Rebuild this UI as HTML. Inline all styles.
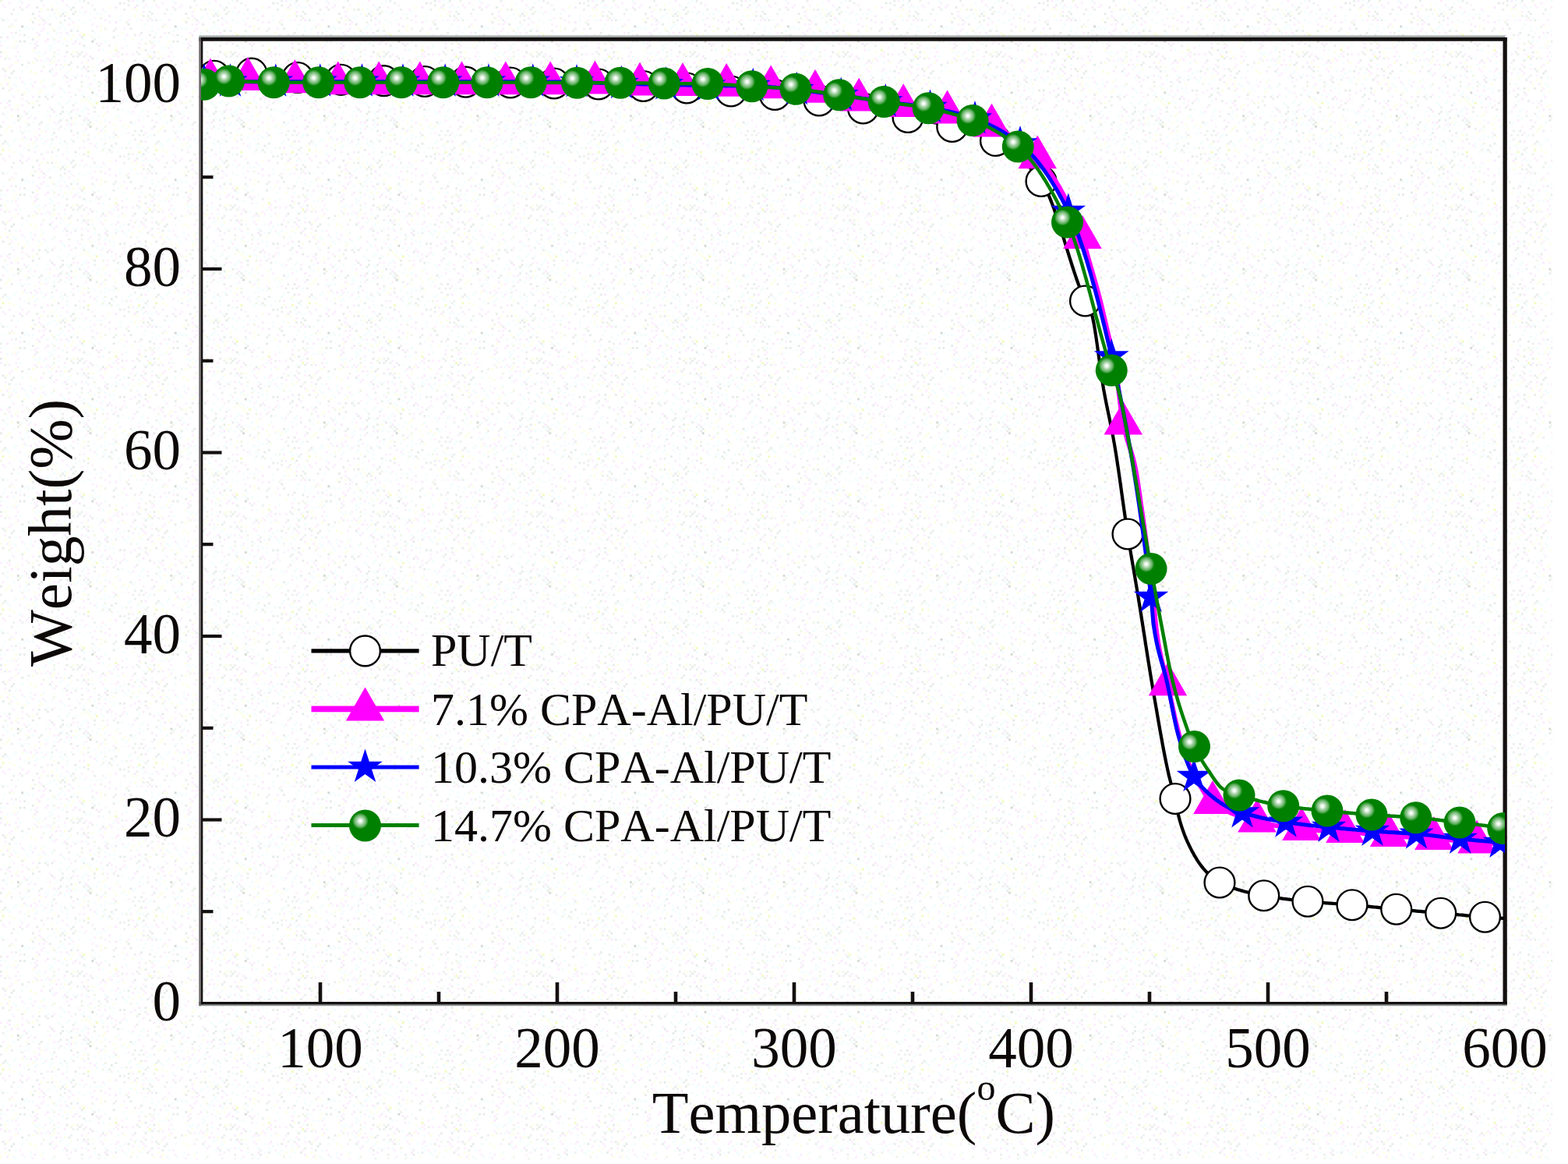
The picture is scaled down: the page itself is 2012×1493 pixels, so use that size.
<!DOCTYPE html>
<html lang="en"><head><meta charset="utf-8"><title>TGA curves</title>
<style>html,body{margin:0;padding:0;background:#fff;}body{width:2012px;height:1493px;overflow:hidden;}svg{display:block;}text{font-family:"Liberation Serif","Times New Roman",serif;fill:#0c0808;font-kerning:none;}</style>
</head><body>
<svg width="2012" height="1493" viewBox="0 0 2012 1493">
<defs>
<radialGradient id="sph" cx="0.35" cy="0.355" r="0.255" fx="0.35" fy="0.355"><stop offset="0" stop-color="#ffffff"/><stop offset="0.16" stop-color="#f2f9f2"/><stop offset="0.42" stop-color="#acd6ac"/><stop offset="0.72" stop-color="#66b266"/><stop offset="1" stop-color="#008000"/></radialGradient>
<clipPath id="plot"><rect x="258.0" y="50.5" width="1673.0" height="1236.5"/></clipPath>
<pattern id="noise" width="196.56" height="196.56" patternUnits="userSpaceOnUse"><path fill="#effcfc" d="M150.15,147.42h2.73v2.73h-2.73zM155.61,188.37h2.73v2.73h-2.73zM114.66,125.58h2.73v2.73h-2.73zM133.77,109.20h2.73v2.73h-2.73zM139.23,174.72h2.73v2.73h-2.73zM35.49,166.53h2.73v2.73h-2.73zM30.03,106.47h2.73v2.73h-2.73zM133.77,152.88h2.73v2.73h-2.73zM68.25,16.38h2.73v2.73h-2.73zM185.64,30.03h2.73v2.73h-2.73zM8.19,182.91h2.73v2.73h-2.73zM122.85,188.37h2.73v2.73h-2.73zM117.39,46.41h2.73v2.73h-2.73zM191.10,171.99h2.73v2.73h-2.73zM43.68,180.18h2.73v2.73h-2.73zM70.98,40.95h2.73v2.73h-2.73zM182.91,8.19h2.73v2.73h-2.73zM87.36,144.69h2.73v2.73h-2.73zM32.76,161.07h2.73v2.73h-2.73zM114.66,60.06h2.73v2.73h-2.73zM150.15,193.83h2.73v2.73h-2.73zM35.49,35.49h2.73v2.73h-2.73zM54.60,68.25h2.73v2.73h-2.73zM65.52,60.06h2.73v2.73h-2.73zM76.44,182.91h2.73v2.73h-2.73zM193.83,38.22h2.73v2.73h-2.73zM174.72,24.57h2.73v2.73h-2.73zM27.30,90.09h2.73v2.73h-2.73zM133.77,51.87h2.73v2.73h-2.73zM103.74,141.96h2.73v2.73h-2.73zM65.52,171.99h2.73v2.73h-2.73zM21.84,57.33h2.73v2.73h-2.73zM155.61,161.07h2.73v2.73h-2.73zM133.77,95.55h2.73v2.73h-2.73zM111.93,109.20h2.73v2.73h-2.73zM109.20,136.50h2.73v2.73h-2.73zM65.52,182.91h2.73v2.73h-2.73zM144.69,70.98h2.73v2.73h-2.73zM169.26,158.34h2.73v2.73h-2.73zM122.85,120.12h2.73v2.73h-2.73zM90.09,24.57h2.73v2.73h-2.73zM24.57,70.98h2.73v2.73h-2.73zM152.88,92.82h2.73v2.73h-2.73zM84.63,182.91h2.73v2.73h-2.73zM106.47,16.38h2.73v2.73h-2.73zM51.87,177.45h2.73v2.73h-2.73zM60.06,40.95h2.73v2.73h-2.73zM180.18,2.73h2.73v2.73h-2.73zM131.04,62.79h2.73v2.73h-2.73zM174.72,185.64h2.73v2.73h-2.73zM19.11,109.20h2.73v2.73h-2.73zM43.68,188.37h2.73v2.73h-2.73zM90.09,177.45h2.73v2.73h-2.73zM19.11,177.45h2.73v2.73h-2.73zM95.55,2.73h2.73v2.73h-2.73zM24.57,0.00h2.73v2.73h-2.73zM62.79,62.79h2.73v2.73h-2.73zM125.58,147.42h2.73v2.73h-2.73zM180.18,49.14h2.73v2.73h-2.73zM16.38,106.47h2.73v2.73h-2.73zM144.69,174.72h2.73v2.73h-2.73zM182.91,139.23h2.73v2.73h-2.73zM101.01,0.00h2.73v2.73h-2.73zM177.45,147.42h2.73v2.73h-2.73zM54.60,182.91h2.73v2.73h-2.73zM161.07,57.33h2.73v2.73h-2.73zM155.61,139.23h2.73v2.73h-2.73zM163.80,98.28h2.73v2.73h-2.73zM117.39,90.09h2.73v2.73h-2.73zM57.33,76.44h2.73v2.73h-2.73zM62.79,57.33h2.73v2.73h-2.73zM87.36,128.31h2.73v2.73h-2.73zM87.36,155.61h2.73v2.73h-2.73zM32.76,177.45h2.73v2.73h-2.73zM158.34,90.09h2.73v2.73h-2.73zM106.47,147.42h2.73v2.73h-2.73zM76.44,122.85h2.73v2.73h-2.73zM101.01,24.57h2.73v2.73h-2.73zM163.80,182.91h2.73v2.73h-2.73zM109.20,95.55h2.73v2.73h-2.73zM10.92,185.64h2.73v2.73h-2.73zM57.33,111.93h2.73v2.73h-2.73zM84.63,131.04h2.73v2.73h-2.73zM95.55,131.04h2.73v2.73h-2.73zM180.18,141.96h2.73v2.73h-2.73zM106.47,49.14h2.73v2.73h-2.73zM125.58,46.41h2.73v2.73h-2.73zM114.66,24.57h2.73v2.73h-2.73zM95.55,158.34h2.73v2.73h-2.73zM24.57,38.22h2.73v2.73h-2.73zM128.31,106.47h2.73v2.73h-2.73zM81.90,13.65h2.73v2.73h-2.73zM73.71,35.49h2.73v2.73h-2.73zM109.20,155.61h2.73v2.73h-2.73zM79.17,54.60h2.73v2.73h-2.73zM84.63,188.37h2.73v2.73h-2.73zM38.22,147.42h2.73v2.73h-2.73zM139.23,111.93h2.73v2.73h-2.73zM68.25,163.80h2.73v2.73h-2.73zM98.28,111.93h2.73v2.73h-2.73zM188.37,73.71h2.73v2.73h-2.73zM152.88,24.57h2.73v2.73h-2.73zM65.52,73.71h2.73v2.73h-2.73zM166.53,180.18h2.73v2.73h-2.73zM193.83,81.90h2.73v2.73h-2.73zM87.36,43.68h2.73v2.73h-2.73zM150.15,79.17h2.73v2.73h-2.73zM158.34,101.01h2.73v2.73h-2.73zM81.90,117.39h2.73v2.73h-2.73zM46.41,185.64h2.73v2.73h-2.73zM128.31,177.45h2.73v2.73h-2.73zM161.07,128.31h2.73v2.73h-2.73zM40.95,35.49h2.73v2.73h-2.73zM65.52,109.20h2.73v2.73h-2.73zM54.60,101.01h2.73v2.73h-2.73zM73.71,131.04h2.73v2.73h-2.73zM19.11,98.28h2.73v2.73h-2.73zM0.00,51.87h2.73v2.73h-2.73zM177.45,128.31h2.73v2.73h-2.73zM76.44,87.36h2.73v2.73h-2.73zM27.30,147.42h2.73v2.73h-2.73zM174.72,106.47h2.73v2.73h-2.73zM128.31,16.38h2.73v2.73h-2.73zM16.38,155.61h2.73v2.73h-2.73z"/><path fill="#f2fdff" d="M76.44,177.45h2.73v2.73h-2.73zM144.69,111.93h2.73v2.73h-2.73zM38.22,101.01h2.73v2.73h-2.73zM87.36,161.07h2.73v2.73h-2.73zM5.46,51.87h2.73v2.73h-2.73zM182.91,150.15h2.73v2.73h-2.73zM109.20,60.06h2.73v2.73h-2.73zM120.12,101.01h2.73v2.73h-2.73zM122.85,182.91h2.73v2.73h-2.73zM8.19,24.57h2.73v2.73h-2.73zM0.00,21.84h2.73v2.73h-2.73zM49.14,111.93h2.73v2.73h-2.73zM70.98,147.42h2.73v2.73h-2.73zM98.28,95.55h2.73v2.73h-2.73zM111.93,122.85h2.73v2.73h-2.73zM8.19,60.06h2.73v2.73h-2.73zM79.17,30.03h2.73v2.73h-2.73zM131.04,163.80h2.73v2.73h-2.73zM79.17,114.66h2.73v2.73h-2.73zM188.37,8.19h2.73v2.73h-2.73zM193.83,32.76h2.73v2.73h-2.73zM98.28,49.14h2.73v2.73h-2.73zM81.90,76.44h2.73v2.73h-2.73zM133.77,171.99h2.73v2.73h-2.73zM87.36,8.19h2.73v2.73h-2.73zM150.15,43.68h2.73v2.73h-2.73zM188.37,193.83h2.73v2.73h-2.73zM163.80,141.96h2.73v2.73h-2.73zM114.66,16.38h2.73v2.73h-2.73zM98.28,155.61h2.73v2.73h-2.73zM13.65,120.12h2.73v2.73h-2.73zM81.90,163.80h2.73v2.73h-2.73zM68.25,54.60h2.73v2.73h-2.73zM62.79,19.11h2.73v2.73h-2.73zM76.44,32.76h2.73v2.73h-2.73zM32.76,84.63h2.73v2.73h-2.73zM57.33,147.42h2.73v2.73h-2.73zM65.52,92.82h2.73v2.73h-2.73zM177.45,188.37h2.73v2.73h-2.73zM5.46,128.31h2.73v2.73h-2.73zM65.52,46.41h2.73v2.73h-2.73zM106.47,166.53h2.73v2.73h-2.73zM120.12,111.93h2.73v2.73h-2.73zM76.44,46.41h2.73v2.73h-2.73zM122.85,73.71h2.73v2.73h-2.73zM57.33,161.07h2.73v2.73h-2.73zM103.74,120.12h2.73v2.73h-2.73zM182.91,35.49h2.73v2.73h-2.73zM147.42,95.55h2.73v2.73h-2.73zM73.71,68.25h2.73v2.73h-2.73zM16.38,180.18h2.73v2.73h-2.73zM120.12,40.95h2.73v2.73h-2.73zM62.79,81.90h2.73v2.73h-2.73zM103.74,87.36h2.73v2.73h-2.73zM191.10,65.52h2.73v2.73h-2.73zM13.65,60.06h2.73v2.73h-2.73zM122.85,152.88h2.73v2.73h-2.73zM141.96,131.04h2.73v2.73h-2.73zM79.17,84.63h2.73v2.73h-2.73zM120.12,174.72h2.73v2.73h-2.73zM84.63,141.96h2.73v2.73h-2.73zM133.77,188.37h2.73v2.73h-2.73zM144.69,117.39h2.73v2.73h-2.73zM193.83,8.19h2.73v2.73h-2.73zM40.95,155.61h2.73v2.73h-2.73zM70.98,21.84h2.73v2.73h-2.73zM158.34,49.14h2.73v2.73h-2.73zM8.19,150.15h2.73v2.73h-2.73zM32.76,32.76h2.73v2.73h-2.73zM174.72,0.00h2.73v2.73h-2.73zM76.44,10.92h2.73v2.73h-2.73zM46.41,141.96h2.73v2.73h-2.73zM62.79,185.64h2.73v2.73h-2.73zM106.47,117.39h2.73v2.73h-2.73zM117.39,150.15h2.73v2.73h-2.73zM30.03,166.53h2.73v2.73h-2.73zM92.82,95.55h2.73v2.73h-2.73zM60.06,158.34h2.73v2.73h-2.73zM30.03,188.37h2.73v2.73h-2.73zM98.28,144.69h2.73v2.73h-2.73zM49.14,65.52h2.73v2.73h-2.73zM180.18,114.66h2.73v2.73h-2.73zM35.49,46.41h2.73v2.73h-2.73zM136.50,193.83h2.73v2.73h-2.73zM161.07,163.80h2.73v2.73h-2.73zM128.31,193.83h2.73v2.73h-2.73zM131.04,120.12h2.73v2.73h-2.73zM101.01,13.65h2.73v2.73h-2.73zM125.58,81.90h2.73v2.73h-2.73zM24.57,166.53h2.73v2.73h-2.73zM38.22,54.60h2.73v2.73h-2.73zM120.12,128.31h2.73v2.73h-2.73zM60.06,163.80h2.73v2.73h-2.73zM174.72,84.63h2.73v2.73h-2.73zM152.88,19.11h2.73v2.73h-2.73zM177.45,92.82h2.73v2.73h-2.73zM46.41,68.25h2.73v2.73h-2.73zM79.17,98.28h2.73v2.73h-2.73zM87.36,90.09h2.73v2.73h-2.73zM122.85,16.38h2.73v2.73h-2.73zM70.98,2.73h2.73v2.73h-2.73zM161.07,103.74h2.73v2.73h-2.73zM150.15,98.28h2.73v2.73h-2.73zM16.38,46.41h2.73v2.73h-2.73zM103.74,158.34h2.73v2.73h-2.73zM60.06,21.84h2.73v2.73h-2.73zM141.96,101.01h2.73v2.73h-2.73zM43.68,65.52h2.73v2.73h-2.73zM32.76,111.93h2.73v2.73h-2.73zM180.18,101.01h2.73v2.73h-2.73zM76.44,133.77h2.73v2.73h-2.73zM38.22,106.47h2.73v2.73h-2.73zM84.63,92.82h2.73v2.73h-2.73zM5.46,35.49h2.73v2.73h-2.73zM70.98,158.34h2.73v2.73h-2.73zM133.77,13.65h2.73v2.73h-2.73zM84.63,193.83h2.73v2.73h-2.73zM84.63,51.87h2.73v2.73h-2.73zM98.28,174.72h2.73v2.73h-2.73zM8.19,141.96h2.73v2.73h-2.73zM158.34,169.26h2.73v2.73h-2.73zM106.47,27.30h2.73v2.73h-2.73zM35.49,141.96h2.73v2.73h-2.73zM171.99,155.61h2.73v2.73h-2.73zM35.49,114.66h2.73v2.73h-2.73zM79.17,150.15h2.73v2.73h-2.73zM182.91,73.71h2.73v2.73h-2.73zM128.31,128.31h2.73v2.73h-2.73zM133.77,177.45h2.73v2.73h-2.73zM81.90,35.49h2.73v2.73h-2.73zM5.46,147.42h2.73v2.73h-2.73zM182.91,188.37h2.73v2.73h-2.73zM144.69,188.37h2.73v2.73h-2.73zM60.06,120.12h2.73v2.73h-2.73zM141.96,90.09h2.73v2.73h-2.73zM60.06,141.96h2.73v2.73h-2.73zM131.04,131.04h2.73v2.73h-2.73zM166.53,19.11h2.73v2.73h-2.73zM30.03,35.49h2.73v2.73h-2.73zM131.04,185.64h2.73v2.73h-2.73zM21.84,16.38h2.73v2.73h-2.73zM166.53,144.69h2.73v2.73h-2.73zM92.82,35.49h2.73v2.73h-2.73zM106.47,139.23h2.73v2.73h-2.73zM60.06,177.45h2.73v2.73h-2.73zM79.17,185.64h2.73v2.73h-2.73zM2.73,40.95h2.73v2.73h-2.73zM188.37,174.72h2.73v2.73h-2.73z"/><path fill="#e9eeeb" d="M147.42,35.49h2.73v2.73h-2.73zM90.09,79.17h2.73v2.73h-2.73zM106.47,70.98h2.73v2.73h-2.73zM182.91,19.11h2.73v2.73h-2.73zM158.34,2.73h2.73v2.73h-2.73zM35.49,191.10h2.73v2.73h-2.73zM27.30,169.26h2.73v2.73h-2.73zM27.30,10.92h2.73v2.73h-2.73zM111.93,2.73h2.73v2.73h-2.73zM79.17,136.50h2.73v2.73h-2.73zM92.82,133.77h2.73v2.73h-2.73zM19.11,40.95h2.73v2.73h-2.73zM188.37,147.42h2.73v2.73h-2.73zM185.64,191.10h2.73v2.73h-2.73zM144.69,38.22h2.73v2.73h-2.73zM177.45,171.99h2.73v2.73h-2.73zM51.87,0.00h2.73v2.73h-2.73zM188.37,188.37h2.73v2.73h-2.73zM122.85,163.80h2.73v2.73h-2.73zM169.26,171.99h2.73v2.73h-2.73zM92.82,180.18h2.73v2.73h-2.73zM81.90,24.57h2.73v2.73h-2.73zM13.65,16.38h2.73v2.73h-2.73zM106.47,152.88h2.73v2.73h-2.73zM163.80,5.46h2.73v2.73h-2.73zM136.50,98.28h2.73v2.73h-2.73zM174.72,133.77h2.73v2.73h-2.73zM65.52,193.83h2.73v2.73h-2.73zM158.34,10.92h2.73v2.73h-2.73zM32.76,144.69h2.73v2.73h-2.73zM171.99,43.68h2.73v2.73h-2.73zM16.38,10.92h2.73v2.73h-2.73zM5.46,73.71h2.73v2.73h-2.73zM147.42,101.01h2.73v2.73h-2.73zM144.69,136.50h2.73v2.73h-2.73zM2.73,144.69h2.73v2.73h-2.73zM193.83,95.55h2.73v2.73h-2.73zM0.00,171.99h2.73v2.73h-2.73zM174.72,65.52h2.73v2.73h-2.73zM163.80,0.00h2.73v2.73h-2.73zM95.55,98.28h2.73v2.73h-2.73zM76.44,19.11h2.73v2.73h-2.73zM171.99,177.45h2.73v2.73h-2.73zM182.91,171.99h2.73v2.73h-2.73zM117.39,38.22h2.73v2.73h-2.73zM0.00,46.41h2.73v2.73h-2.73zM84.63,152.88h2.73v2.73h-2.73zM13.65,166.53h2.73v2.73h-2.73zM111.93,152.88h2.73v2.73h-2.73zM60.06,125.58h2.73v2.73h-2.73zM95.55,120.12h2.73v2.73h-2.73zM35.49,79.17h2.73v2.73h-2.73zM120.12,141.96h2.73v2.73h-2.73zM76.44,161.07h2.73v2.73h-2.73zM65.52,177.45h2.73v2.73h-2.73zM171.99,166.53h2.73v2.73h-2.73zM98.28,84.63h2.73v2.73h-2.73zM98.28,38.22h2.73v2.73h-2.73zM120.12,10.92h2.73v2.73h-2.73zM174.72,122.85h2.73v2.73h-2.73zM98.28,70.98h2.73v2.73h-2.73zM139.23,57.33h2.73v2.73h-2.73zM103.74,65.52h2.73v2.73h-2.73zM191.10,13.65h2.73v2.73h-2.73zM155.61,68.25h2.73v2.73h-2.73zM188.37,19.11h2.73v2.73h-2.73zM81.90,180.18h2.73v2.73h-2.73zM103.74,103.74h2.73v2.73h-2.73zM81.90,19.11h2.73v2.73h-2.73zM177.45,68.25h2.73v2.73h-2.73zM106.47,0.00h2.73v2.73h-2.73zM87.36,109.20h2.73v2.73h-2.73zM90.09,141.96h2.73v2.73h-2.73zM46.41,57.33h2.73v2.73h-2.73zM49.14,133.77h2.73v2.73h-2.73zM120.12,49.14h2.73v2.73h-2.73zM185.64,84.63h2.73v2.73h-2.73zM111.93,177.45h2.73v2.73h-2.73zM49.14,158.34h2.73v2.73h-2.73zM185.64,117.39h2.73v2.73h-2.73zM2.73,182.91h2.73v2.73h-2.73zM180.18,87.36h2.73v2.73h-2.73zM174.72,5.46h2.73v2.73h-2.73zM152.88,131.04h2.73v2.73h-2.73zM92.82,70.98h2.73v2.73h-2.73zM84.63,57.33h2.73v2.73h-2.73zM125.58,103.74h2.73v2.73h-2.73zM90.09,10.92h2.73v2.73h-2.73zM125.58,57.33h2.73v2.73h-2.73zM5.46,90.09h2.73v2.73h-2.73z"/><path fill="#fbecff" d="M54.60,30.03h2.73v2.73h-2.73zM54.60,35.49h2.73v2.73h-2.73zM188.37,24.57h2.73v2.73h-2.73zM8.19,106.47h2.73v2.73h-2.73zM177.45,54.60h2.73v2.73h-2.73zM111.93,98.28h2.73v2.73h-2.73zM40.95,122.85h2.73v2.73h-2.73zM2.73,155.61h2.73v2.73h-2.73zM81.90,70.98h2.73v2.73h-2.73zM19.11,24.57h2.73v2.73h-2.73zM185.64,169.26h2.73v2.73h-2.73zM128.31,79.17h2.73v2.73h-2.73zM111.93,76.44h2.73v2.73h-2.73zM70.98,174.72h2.73v2.73h-2.73zM185.64,92.82h2.73v2.73h-2.73zM92.82,54.60h2.73v2.73h-2.73zM10.92,2.73h2.73v2.73h-2.73zM169.26,141.96h2.73v2.73h-2.73zM161.07,43.68h2.73v2.73h-2.73zM40.95,109.20h2.73v2.73h-2.73zM114.66,106.47h2.73v2.73h-2.73zM35.49,5.46h2.73v2.73h-2.73zM46.41,177.45h2.73v2.73h-2.73zM57.33,180.18h2.73v2.73h-2.73zM62.79,136.50h2.73v2.73h-2.73zM2.73,5.46h2.73v2.73h-2.73zM171.99,114.66h2.73v2.73h-2.73zM35.49,150.15h2.73v2.73h-2.73zM76.44,111.93h2.73v2.73h-2.73zM32.76,8.19h2.73v2.73h-2.73zM193.83,163.80h2.73v2.73h-2.73zM166.53,117.39h2.73v2.73h-2.73zM51.87,38.22h2.73v2.73h-2.73zM188.37,120.12h2.73v2.73h-2.73zM109.20,68.25h2.73v2.73h-2.73zM169.26,68.25h2.73v2.73h-2.73zM43.68,193.83h2.73v2.73h-2.73zM106.47,188.37h2.73v2.73h-2.73zM21.84,76.44h2.73v2.73h-2.73zM10.92,133.77h2.73v2.73h-2.73zM0.00,57.33h2.73v2.73h-2.73zM19.11,70.98h2.73v2.73h-2.73zM87.36,30.03h2.73v2.73h-2.73zM16.38,122.85h2.73v2.73h-2.73zM73.71,51.87h2.73v2.73h-2.73zM120.12,185.64h2.73v2.73h-2.73zM103.74,79.17h2.73v2.73h-2.73zM27.30,2.73h2.73v2.73h-2.73zM139.23,155.61h2.73v2.73h-2.73zM10.92,73.71h2.73v2.73h-2.73zM0.00,70.98h2.73v2.73h-2.73zM27.30,103.74h2.73v2.73h-2.73zM161.07,68.25h2.73v2.73h-2.73zM43.68,54.60h2.73v2.73h-2.73zM182.91,13.65h2.73v2.73h-2.73zM65.52,87.36h2.73v2.73h-2.73zM128.31,54.60h2.73v2.73h-2.73zM49.14,13.65h2.73v2.73h-2.73zM133.77,79.17h2.73v2.73h-2.73zM193.83,60.06h2.73v2.73h-2.73zM30.03,174.72h2.73v2.73h-2.73zM150.15,70.98h2.73v2.73h-2.73zM158.34,35.49h2.73v2.73h-2.73zM30.03,141.96h2.73v2.73h-2.73zM171.99,136.50h2.73v2.73h-2.73zM169.26,79.17h2.73v2.73h-2.73zM0.00,131.04h2.73v2.73h-2.73zM103.74,95.55h2.73v2.73h-2.73zM49.14,19.11h2.73v2.73h-2.73zM43.68,103.74h2.73v2.73h-2.73zM182.91,90.09h2.73v2.73h-2.73zM49.14,163.80h2.73v2.73h-2.73zM122.85,32.76h2.73v2.73h-2.73zM128.31,166.53h2.73v2.73h-2.73zM68.25,95.55h2.73v2.73h-2.73zM60.06,193.83h2.73v2.73h-2.73zM24.57,185.64h2.73v2.73h-2.73zM43.68,73.71h2.73v2.73h-2.73zM70.98,92.82h2.73v2.73h-2.73zM193.83,103.74h2.73v2.73h-2.73zM21.84,139.23h2.73v2.73h-2.73zM62.79,76.44h2.73v2.73h-2.73zM79.17,0.00h2.73v2.73h-2.73zM169.26,92.82h2.73v2.73h-2.73zM49.14,171.99h2.73v2.73h-2.73zM68.25,155.61h2.73v2.73h-2.73zM84.63,5.46h2.73v2.73h-2.73zM169.26,0.00h2.73v2.73h-2.73zM133.77,24.57h2.73v2.73h-2.73zM114.66,182.91h2.73v2.73h-2.73zM46.41,40.95h2.73v2.73h-2.73zM141.96,125.58h2.73v2.73h-2.73zM177.45,152.88h2.73v2.73h-2.73zM117.39,30.03h2.73v2.73h-2.73zM90.09,101.01h2.73v2.73h-2.73zM106.47,180.18h2.73v2.73h-2.73zM166.53,188.37h2.73v2.73h-2.73zM13.65,40.95h2.73v2.73h-2.73zM133.77,114.66h2.73v2.73h-2.73zM51.87,90.09h2.73v2.73h-2.73zM54.60,109.20h2.73v2.73h-2.73zM109.20,87.36h2.73v2.73h-2.73zM125.58,62.79h2.73v2.73h-2.73zM150.15,65.52h2.73v2.73h-2.73zM141.96,76.44h2.73v2.73h-2.73z"/><path fill="#fdeefd" d="M51.87,21.84h2.73v2.73h-2.73zM73.71,163.80h2.73v2.73h-2.73zM131.04,10.92h2.73v2.73h-2.73zM136.50,136.50h2.73v2.73h-2.73zM109.20,13.65h2.73v2.73h-2.73zM98.28,139.23h2.73v2.73h-2.73zM62.79,147.42h2.73v2.73h-2.73zM19.11,60.06h2.73v2.73h-2.73zM180.18,24.57h2.73v2.73h-2.73zM147.42,68.25h2.73v2.73h-2.73zM193.83,87.36h2.73v2.73h-2.73zM144.69,169.26h2.73v2.73h-2.73zM182.91,81.90h2.73v2.73h-2.73zM84.63,158.34h2.73v2.73h-2.73zM10.92,84.63h2.73v2.73h-2.73zM103.74,8.19h2.73v2.73h-2.73zM24.57,43.68h2.73v2.73h-2.73zM166.53,84.63h2.73v2.73h-2.73zM155.61,76.44h2.73v2.73h-2.73zM131.04,90.09h2.73v2.73h-2.73zM24.57,161.07h2.73v2.73h-2.73zM101.01,43.68h2.73v2.73h-2.73zM84.63,103.74h2.73v2.73h-2.73zM155.61,98.28h2.73v2.73h-2.73zM147.42,133.77h2.73v2.73h-2.73zM13.65,111.93h2.73v2.73h-2.73zM155.61,60.06h2.73v2.73h-2.73zM188.37,141.96h2.73v2.73h-2.73zM128.31,122.85h2.73v2.73h-2.73zM87.36,117.39h2.73v2.73h-2.73zM120.12,21.84h2.73v2.73h-2.73zM76.44,81.90h2.73v2.73h-2.73zM21.84,65.52h2.73v2.73h-2.73zM60.06,73.71h2.73v2.73h-2.73zM125.58,114.66h2.73v2.73h-2.73zM5.46,95.55h2.73v2.73h-2.73zM54.60,5.46h2.73v2.73h-2.73zM158.34,120.12h2.73v2.73h-2.73zM51.87,76.44h2.73v2.73h-2.73zM163.80,24.57h2.73v2.73h-2.73zM24.57,98.28h2.73v2.73h-2.73zM46.41,51.87h2.73v2.73h-2.73zM90.09,122.85h2.73v2.73h-2.73zM101.01,188.37h2.73v2.73h-2.73zM13.65,30.03h2.73v2.73h-2.73zM191.10,98.28h2.73v2.73h-2.73zM57.33,166.53h2.73v2.73h-2.73zM73.71,76.44h2.73v2.73h-2.73zM139.23,27.30h2.73v2.73h-2.73zM13.65,81.90h2.73v2.73h-2.73zM92.82,171.99h2.73v2.73h-2.73zM185.64,5.46h2.73v2.73h-2.73zM101.01,114.66h2.73v2.73h-2.73zM182.91,161.07h2.73v2.73h-2.73zM49.14,30.03h2.73v2.73h-2.73zM68.25,120.12h2.73v2.73h-2.73zM57.33,65.52h2.73v2.73h-2.73zM147.42,128.31h2.73v2.73h-2.73zM8.19,131.04h2.73v2.73h-2.73zM57.33,51.87h2.73v2.73h-2.73zM27.30,125.58h2.73v2.73h-2.73zM111.93,144.69h2.73v2.73h-2.73zM188.37,68.25h2.73v2.73h-2.73zM111.93,139.23h2.73v2.73h-2.73zM92.82,27.30h2.73v2.73h-2.73zM117.39,5.46h2.73v2.73h-2.73zM5.46,8.19h2.73v2.73h-2.73zM147.42,90.09h2.73v2.73h-2.73zM109.20,163.80h2.73v2.73h-2.73zM32.76,128.31h2.73v2.73h-2.73zM128.31,87.36h2.73v2.73h-2.73zM76.44,40.95h2.73v2.73h-2.73zM163.80,169.26h2.73v2.73h-2.73zM136.50,141.96h2.73v2.73h-2.73zM139.23,73.71h2.73v2.73h-2.73zM177.45,43.68h2.73v2.73h-2.73zM158.34,125.58h2.73v2.73h-2.73zM57.33,27.30h2.73v2.73h-2.73zM92.82,139.23h2.73v2.73h-2.73zM43.68,174.72h2.73v2.73h-2.73zM73.71,62.79h2.73v2.73h-2.73zM155.61,128.31h2.73v2.73h-2.73zM27.30,133.77h2.73v2.73h-2.73zM152.88,152.88h2.73v2.73h-2.73z"/><path fill="#fcffe4" d="M147.42,163.80h2.73v2.73h-2.73zM117.39,158.34h2.73v2.73h-2.73zM169.26,49.14h2.73v2.73h-2.73zM144.69,158.34h2.73v2.73h-2.73zM114.66,131.04h2.73v2.73h-2.73zM49.14,117.39h2.73v2.73h-2.73zM180.18,62.79h2.73v2.73h-2.73zM35.49,185.64h2.73v2.73h-2.73zM43.68,169.26h2.73v2.73h-2.73zM166.53,193.83h2.73v2.73h-2.73zM150.15,174.72h2.73v2.73h-2.73zM16.38,32.76h2.73v2.73h-2.73zM51.87,10.92h2.73v2.73h-2.73zM16.38,57.33h2.73v2.73h-2.73zM49.14,24.57h2.73v2.73h-2.73zM21.84,133.77h2.73v2.73h-2.73zM98.28,32.76h2.73v2.73h-2.73zM133.77,84.63h2.73v2.73h-2.73zM21.84,114.66h2.73v2.73h-2.73zM114.66,43.68h2.73v2.73h-2.73zM51.87,103.74h2.73v2.73h-2.73zM70.98,10.92h2.73v2.73h-2.73zM103.74,177.45h2.73v2.73h-2.73zM5.46,101.01h2.73v2.73h-2.73zM65.52,35.49h2.73v2.73h-2.73zM19.11,136.50h2.73v2.73h-2.73zM117.39,84.63h2.73v2.73h-2.73zM32.76,155.61h2.73v2.73h-2.73zM128.31,155.61h2.73v2.73h-2.73zM65.52,5.46h2.73v2.73h-2.73zM109.20,125.58h2.73v2.73h-2.73zM133.77,144.69h2.73v2.73h-2.73zM49.14,70.98h2.73v2.73h-2.73zM68.25,76.44h2.73v2.73h-2.73zM65.52,79.17h2.73v2.73h-2.73zM90.09,49.14h2.73v2.73h-2.73zM139.23,65.52h2.73v2.73h-2.73zM16.38,193.83h2.73v2.73h-2.73zM131.04,147.42h2.73v2.73h-2.73zM8.19,163.80h2.73v2.73h-2.73zM174.72,10.92h2.73v2.73h-2.73zM62.79,152.88h2.73v2.73h-2.73zM5.46,166.53h2.73v2.73h-2.73zM169.26,101.01h2.73v2.73h-2.73zM40.95,182.91h2.73v2.73h-2.73zM155.61,40.95h2.73v2.73h-2.73zM40.95,62.79h2.73v2.73h-2.73zM128.31,38.22h2.73v2.73h-2.73zM68.25,188.37h2.73v2.73h-2.73zM103.74,40.95h2.73v2.73h-2.73zM103.74,128.31h2.73v2.73h-2.73zM182.91,95.55h2.73v2.73h-2.73zM117.39,133.77h2.73v2.73h-2.73zM109.20,79.17h2.73v2.73h-2.73zM51.87,166.53h2.73v2.73h-2.73zM163.80,161.07h2.73v2.73h-2.73zM10.92,103.74h2.73v2.73h-2.73zM90.09,87.36h2.73v2.73h-2.73zM73.71,16.38h2.73v2.73h-2.73zM133.77,166.53h2.73v2.73h-2.73zM8.19,70.98h2.73v2.73h-2.73zM8.19,87.36h2.73v2.73h-2.73zM169.26,10.92h2.73v2.73h-2.73zM139.23,8.19h2.73v2.73h-2.73zM92.82,155.61h2.73v2.73h-2.73zM147.42,57.33h2.73v2.73h-2.73zM19.11,51.87h2.73v2.73h-2.73zM111.93,128.31h2.73v2.73h-2.73zM10.92,109.20h2.73v2.73h-2.73zM92.82,43.68h2.73v2.73h-2.73zM144.69,106.47h2.73v2.73h-2.73zM51.87,114.66h2.73v2.73h-2.73zM0.00,185.64h2.73v2.73h-2.73zM147.42,150.15h2.73v2.73h-2.73z"/><path fill="#e3eae6" d="M141.96,185.64h2.73v2.73h-2.73zM177.45,120.12h2.73v2.73h-2.73zM95.55,193.83h2.73v2.73h-2.73zM40.95,49.14h2.73v2.73h-2.73zM90.09,38.22h2.73v2.73h-2.73zM30.03,51.87h2.73v2.73h-2.73zM79.17,141.96h2.73v2.73h-2.73zM114.66,155.61h2.73v2.73h-2.73zM180.18,180.18h2.73v2.73h-2.73zM16.38,90.09h2.73v2.73h-2.73zM90.09,150.15h2.73v2.73h-2.73zM101.01,147.42h2.73v2.73h-2.73zM150.15,139.23h2.73v2.73h-2.73zM49.14,122.85h2.73v2.73h-2.73zM163.80,90.09h2.73v2.73h-2.73zM136.50,125.58h2.73v2.73h-2.73zM35.49,158.34h2.73v2.73h-2.73zM2.73,87.36h2.73v2.73h-2.73zM117.39,73.71h2.73v2.73h-2.73zM163.80,30.03h2.73v2.73h-2.73zM40.95,16.38h2.73v2.73h-2.73zM30.03,43.68h2.73v2.73h-2.73zM158.34,114.66h2.73v2.73h-2.73zM92.82,8.19h2.73v2.73h-2.73zM193.83,73.71h2.73v2.73h-2.73zM79.17,16.38h2.73v2.73h-2.73zM2.73,111.93h2.73v2.73h-2.73zM106.47,57.33h2.73v2.73h-2.73zM166.53,35.49h2.73v2.73h-2.73zM0.00,65.52h2.73v2.73h-2.73zM10.92,128.31h2.73v2.73h-2.73zM0.00,161.07h2.73v2.73h-2.73zM131.04,76.44h2.73v2.73h-2.73zM106.47,84.63h2.73v2.73h-2.73zM136.50,103.74h2.73v2.73h-2.73zM13.65,92.82h2.73v2.73h-2.73zM188.37,101.01h2.73v2.73h-2.73zM5.46,180.18h2.73v2.73h-2.73zM65.52,10.92h2.73v2.73h-2.73zM62.79,90.09h2.73v2.73h-2.73zM46.41,8.19h2.73v2.73h-2.73zM84.63,98.28h2.73v2.73h-2.73zM101.01,68.25h2.73v2.73h-2.73zM147.42,171.99h2.73v2.73h-2.73zM40.95,27.30h2.73v2.73h-2.73zM111.93,90.09h2.73v2.73h-2.73zM40.95,136.50h2.73v2.73h-2.73zM193.83,16.38h2.73v2.73h-2.73zM191.10,128.31h2.73v2.73h-2.73zM185.64,111.93h2.73v2.73h-2.73zM76.44,152.88h2.73v2.73h-2.73zM87.36,81.90h2.73v2.73h-2.73zM147.42,182.91h2.73v2.73h-2.73zM27.30,120.12h2.73v2.73h-2.73zM166.53,155.61h2.73v2.73h-2.73zM144.69,46.41h2.73v2.73h-2.73zM27.30,81.90h2.73v2.73h-2.73zM139.23,191.10h2.73v2.73h-2.73zM76.44,144.69h2.73v2.73h-2.73zM111.93,158.34h2.73v2.73h-2.73zM171.99,76.44h2.73v2.73h-2.73zM10.92,98.28h2.73v2.73h-2.73zM182.91,0.00h2.73v2.73h-2.73zM185.64,62.79h2.73v2.73h-2.73zM62.79,30.03h2.73v2.73h-2.73zM92.82,16.38h2.73v2.73h-2.73zM180.18,166.53h2.73v2.73h-2.73zM90.09,166.53h2.73v2.73h-2.73zM152.88,2.73h2.73v2.73h-2.73zM73.71,191.10h2.73v2.73h-2.73zM54.60,24.57h2.73v2.73h-2.73zM152.88,114.66h2.73v2.73h-2.73zM103.74,46.41h2.73v2.73h-2.73zM106.47,122.85h2.73v2.73h-2.73zM98.28,169.26h2.73v2.73h-2.73zM21.84,152.88h2.73v2.73h-2.73zM57.33,122.85h2.73v2.73h-2.73zM51.87,155.61h2.73v2.73h-2.73zM24.57,51.87h2.73v2.73h-2.73zM84.63,65.52h2.73v2.73h-2.73zM65.52,139.23h2.73v2.73h-2.73zM68.25,169.26h2.73v2.73h-2.73zM191.10,43.68h2.73v2.73h-2.73zM2.73,24.57h2.73v2.73h-2.73zM180.18,40.95h2.73v2.73h-2.73zM185.64,76.44h2.73v2.73h-2.73zM65.52,122.85h2.73v2.73h-2.73zM120.12,136.50h2.73v2.73h-2.73z"/><path fill="#f8e7fc" d="M87.36,21.84h2.73v2.73h-2.73zM49.14,43.68h2.73v2.73h-2.73zM43.68,150.15h2.73v2.73h-2.73zM8.19,46.41h2.73v2.73h-2.73zM147.42,8.19h2.73v2.73h-2.73zM73.71,155.61h2.73v2.73h-2.73zM133.77,101.01h2.73v2.73h-2.73zM177.45,60.06h2.73v2.73h-2.73zM185.64,180.18h2.73v2.73h-2.73zM139.23,19.11h2.73v2.73h-2.73zM60.06,49.14h2.73v2.73h-2.73zM90.09,158.34h2.73v2.73h-2.73zM101.01,54.60h2.73v2.73h-2.73zM43.68,60.06h2.73v2.73h-2.73zM150.15,87.36h2.73v2.73h-2.73zM114.66,70.98h2.73v2.73h-2.73zM38.22,177.45h2.73v2.73h-2.73zM122.85,54.60h2.73v2.73h-2.73zM95.55,51.87h2.73v2.73h-2.73zM81.90,95.55h2.73v2.73h-2.73zM193.83,152.88h2.73v2.73h-2.73zM109.20,150.15h2.73v2.73h-2.73zM68.25,141.96h2.73v2.73h-2.73zM84.63,40.95h2.73v2.73h-2.73zM182.91,125.58h2.73v2.73h-2.73zM171.99,8.19h2.73v2.73h-2.73zM24.57,8.19h2.73v2.73h-2.73zM193.83,24.57h2.73v2.73h-2.73zM13.65,139.23h2.73v2.73h-2.73zM139.23,122.85h2.73v2.73h-2.73zM70.98,81.90h2.73v2.73h-2.73zM177.45,111.93h2.73v2.73h-2.73zM147.42,27.30h2.73v2.73h-2.73z"/><path fill="#fcffdf" d="M125.58,169.26h2.73v2.73h-2.73zM10.92,161.07h2.73v2.73h-2.73zM191.10,114.66h2.73v2.73h-2.73zM158.34,79.17h2.73v2.73h-2.73zM38.22,90.09h2.73v2.73h-2.73zM171.99,19.11h2.73v2.73h-2.73zM95.55,150.15h2.73v2.73h-2.73zM13.65,147.42h2.73v2.73h-2.73zM46.41,46.41h2.73v2.73h-2.73zM177.45,182.91h2.73v2.73h-2.73zM0.00,106.47h2.73v2.73h-2.73zM10.92,191.10h2.73v2.73h-2.73zM128.31,32.76h2.73v2.73h-2.73zM180.18,16.38h2.73v2.73h-2.73zM177.45,98.28h2.73v2.73h-2.73zM5.46,65.52h2.73v2.73h-2.73zM106.47,171.99h2.73v2.73h-2.73zM19.11,79.17h2.73v2.73h-2.73zM136.50,76.44h2.73v2.73h-2.73zM92.82,65.52h2.73v2.73h-2.73zM43.68,92.82h2.73v2.73h-2.73zM30.03,117.39h2.73v2.73h-2.73zM81.90,81.90h2.73v2.73h-2.73zM81.90,49.14h2.73v2.73h-2.73zM114.66,111.93h2.73v2.73h-2.73zM40.95,131.04h2.73v2.73h-2.73zM84.63,16.38h2.73v2.73h-2.73zM38.22,24.57h2.73v2.73h-2.73zM40.95,79.17h2.73v2.73h-2.73zM158.34,158.34h2.73v2.73h-2.73zM27.30,177.45h2.73v2.73h-2.73z"/><path fill="#cdd3cc" d="M117.39,117.39h2.73v2.73h-2.73zM117.39,51.87h2.73v2.73h-2.73zM21.84,147.42h2.73v2.73h-2.73zM27.30,32.76h2.73v2.73h-2.73zM114.66,161.07h2.73v2.73h-2.73z"/><path fill="#eef4e4" d="M24.57,150.15h2.73v2.73h-2.73zM43.68,21.84h2.73v2.73h-2.73zM5.46,136.50h2.73v2.73h-2.73zM133.77,35.49h2.73v2.73h-2.73zM0.00,0.00h2.73v2.73h-2.73zM171.99,87.36h2.73v2.73h-2.73zM166.53,106.47h2.73v2.73h-2.73zM10.92,32.76h2.73v2.73h-2.73zM46.41,76.44h2.73v2.73h-2.73zM125.58,109.20h2.73v2.73h-2.73zM68.25,70.98h2.73v2.73h-2.73zM68.25,65.52h2.73v2.73h-2.73zM95.55,13.65h2.73v2.73h-2.73zM54.60,84.63h2.73v2.73h-2.73zM161.07,188.37h2.73v2.73h-2.73zM90.09,68.25h2.73v2.73h-2.73zM191.10,51.87h2.73v2.73h-2.73zM35.49,131.04h2.73v2.73h-2.73zM131.04,191.10h2.73v2.73h-2.73zM191.10,21.84h2.73v2.73h-2.73zM76.44,27.30h2.73v2.73h-2.73zM141.96,193.83h2.73v2.73h-2.73zM68.25,106.47h2.73v2.73h-2.73zM46.41,128.31h2.73v2.73h-2.73zM111.93,84.63h2.73v2.73h-2.73zM60.06,10.92h2.73v2.73h-2.73zM103.74,109.20h2.73v2.73h-2.73zM131.04,136.50h2.73v2.73h-2.73zM133.77,182.91h2.73v2.73h-2.73zM68.25,38.22h2.73v2.73h-2.73zM185.64,54.60h2.73v2.73h-2.73zM161.07,27.30h2.73v2.73h-2.73zM68.25,49.14h2.73v2.73h-2.73zM128.31,21.84h2.73v2.73h-2.73zM193.83,54.60h2.73v2.73h-2.73zM10.92,114.66h2.73v2.73h-2.73zM133.77,161.07h2.73v2.73h-2.73zM120.12,95.55h2.73v2.73h-2.73zM98.28,65.52h2.73v2.73h-2.73zM111.93,171.99h2.73v2.73h-2.73z"/><path fill="#f0fab4" d="M177.45,193.83h2.73v2.73h-2.73zM122.85,131.04h2.73v2.73h-2.73zM2.73,191.10h2.73v2.73h-2.73zM106.47,43.68h2.73v2.73h-2.73zM147.42,62.79h2.73v2.73h-2.73zM191.10,70.98h2.73v2.73h-2.73zM111.93,193.83h2.73v2.73h-2.73z"/></pattern>
</defs>
<rect x="0" y="0" width="2012" height="1493" fill="#ffffff"/>
<rect x="0" y="0" width="1992" height="1487" fill="url(#noise)"/>
<g stroke="#141010" fill="none">
<line x1="255.3" y1="46.7" x2="1931.5" y2="46.7" stroke="#a3a9a9" stroke-width="2.6"/>
<line x1="255.3" y1="50.35" x2="1933.8" y2="50.35" stroke-width="4.7"/>
<line x1="255.3" y1="1289.2" x2="1933.8" y2="1289.2" stroke="#8d9191" stroke-width="2.2"/>
<line x1="255.3" y1="1286.6" x2="1933.8" y2="1286.6" stroke-width="3.4"/>
<line x1="256.55" y1="48" x2="256.55" y2="1290.3" stroke="#6e6a6c" stroke-width="2.5"/>
<line x1="259.05" y1="48" x2="259.05" y2="1288.3" stroke-width="2.5"/>
<line x1="1931.15" y1="48" x2="1931.15" y2="1288.3" stroke-width="5.3"/>
<line x1="258" y1="1169.2" x2="273.5" y2="1169.2" stroke-width="4.2"/>
<line x1="258" y1="1051.5" x2="284.5" y2="1051.5" stroke-width="4.2"/>
<line x1="258" y1="933.8" x2="273.5" y2="933.8" stroke-width="4.2"/>
<line x1="258" y1="816.0" x2="284.5" y2="816.0" stroke-width="4.2"/>
<line x1="258" y1="698.2" x2="273.5" y2="698.2" stroke-width="4.2"/>
<line x1="258" y1="580.5" x2="284.5" y2="580.5" stroke-width="4.2"/>
<line x1="258" y1="462.8" x2="273.5" y2="462.8" stroke-width="4.2"/>
<line x1="258" y1="345.0" x2="284.5" y2="345.0" stroke-width="4.2"/>
<line x1="258" y1="227.2" x2="273.5" y2="227.2" stroke-width="4.2"/>
<line x1="258" y1="109.5" x2="284.5" y2="109.5" stroke-width="4.2"/>
<line x1="411.0" y1="1287" x2="411.0" y2="1260.0" stroke-width="4.6"/>
<line x1="563.0" y1="1287" x2="563.0" y2="1272.0" stroke-width="4.6"/>
<line x1="715.0" y1="1287" x2="715.0" y2="1260.0" stroke-width="4.6"/>
<line x1="867.0" y1="1287" x2="867.0" y2="1272.0" stroke-width="4.6"/>
<line x1="1019.0" y1="1287" x2="1019.0" y2="1260.0" stroke-width="4.6"/>
<line x1="1171.0" y1="1287" x2="1171.0" y2="1272.0" stroke-width="4.6"/>
<line x1="1323.0" y1="1287" x2="1323.0" y2="1260.0" stroke-width="4.6"/>
<line x1="1475.0" y1="1287" x2="1475.0" y2="1272.0" stroke-width="4.6"/>
<line x1="1627.0" y1="1287" x2="1627.0" y2="1260.0" stroke-width="4.6"/>
<line x1="1779.0" y1="1287" x2="1779.0" y2="1272.0" stroke-width="4.6"/>
</g>
<g font-size="73px">
<text x="232" y="1308.5" text-anchor="end">0</text>
<text x="232" y="1073.0" text-anchor="end">20</text>
<text x="232" y="837.5" text-anchor="end">40</text>
<text x="232" y="602.0" text-anchor="end">60</text>
<text x="232" y="366.5" text-anchor="end">80</text>
<text x="232" y="131.0" text-anchor="end">100</text>
<text x="411.0" y="1368.5" text-anchor="middle">100</text>
<text x="715.0" y="1368.5" text-anchor="middle">200</text>
<text x="1019.0" y="1368.5" text-anchor="middle">300</text>
<text x="1323.0" y="1368.5" text-anchor="middle">400</text>
<text x="1627.0" y="1368.5" text-anchor="middle">500</text>
<text x="1931.0" y="1368.5" text-anchor="middle">600</text>
</g>
<text x="1095.3" y="1453" font-size="76.6px" text-anchor="middle">Temperature(<tspan font-size="48px" dy="-42">o</tspan><tspan dy="42">C)</tspan></text>
<text transform="translate(91.3,683.4) rotate(-90)" font-size="77.3px" text-anchor="middle">Weight(%)</text>
<g clip-path="url(#plot)">
<path d="M258.0,96.0 L260.0,96.2 L262.0,96.5 L264.0,96.7 L266.0,96.9 L268.0,97.0 L270.0,97.2 L272.0,97.3 L274.0,97.3 L276.0,97.3 L278.0,97.3 L280.0,97.2 L282.0,97.1 L284.0,97.0 L286.0,96.9 L288.0,96.7 L290.0,96.6 L292.0,96.4 L294.0,96.2 L296.0,96.0 L298.0,95.8 L300.0,95.6 L302.0,95.4 L304.0,95.3 L306.0,95.1 L308.0,94.9 L310.0,94.7 L312.0,94.6 L314.0,94.5 L316.0,94.4 L318.0,94.3 L320.0,94.2 L322.0,94.2 L324.0,94.2 L326.0,94.2 L328.0,94.3 L330.0,94.4 L332.0,94.5 L334.0,94.6 L336.0,94.7 L338.0,94.9 L340.0,95.0 L342.0,95.2 L344.0,95.4 L346.0,95.6 L348.0,95.9 L350.0,96.1 L352.0,96.3 L354.0,96.6 L356.0,96.8 L358.0,97.0 L360.0,97.3 L362.0,97.5 L364.0,97.8 L366.0,98.0 L368.0,98.2 L370.0,98.4 L372.0,98.7 L374.0,98.8 L376.0,99.0 L378.0,99.2 L380.0,99.4 L382.0,99.5 L384.0,99.6 L386.0,99.8 L388.0,99.9 L390.0,100.0 L392.0,100.1 L394.0,100.2 L396.0,100.4 L398.0,100.5 L400.0,100.6 L402.0,100.7 L404.0,100.8 L406.0,100.9 L408.0,101.0 L410.0,101.1 L412.0,101.2 L414.0,101.3 L416.0,101.4 L418.0,101.5 L420.0,101.6 L422.0,101.7 L424.0,101.8 L426.0,101.9 L428.0,102.0 L430.0,102.0 L432.0,102.1 L434.0,102.2 L436.0,102.3 L438.0,102.3 L440.0,102.4 L442.0,102.4 L444.0,102.5 L446.0,102.6 L448.0,102.6 L450.0,102.7 L452.0,102.7 L454.0,102.8 L456.0,102.8 L458.0,102.9 L460.0,102.9 L462.0,103.0 L464.0,103.0 L466.0,103.1 L468.0,103.1 L470.0,103.1 L472.0,103.2 L474.0,103.2 L476.0,103.3 L478.0,103.3 L480.0,103.4 L482.0,103.4 L484.0,103.4 L486.0,103.5 L488.0,103.5 L490.0,103.6 L492.0,103.6 L494.0,103.6 L496.0,103.7 L498.0,103.7 L500.0,103.7 L502.0,103.8 L504.0,103.8 L506.0,103.9 L508.0,103.9 L510.0,103.9 L512.0,104.0 L514.0,104.0 L516.0,104.0 L518.0,104.1 L520.0,104.1 L522.0,104.1 L524.0,104.2 L526.0,104.2 L528.0,104.2 L530.0,104.3 L532.0,104.3 L534.0,104.3 L536.0,104.4 L538.0,104.4 L540.0,104.4 L542.0,104.5 L544.0,104.5 L546.0,104.5 L548.0,104.5 L550.0,104.6 L552.0,104.6 L554.0,104.6 L556.0,104.7 L558.0,104.7 L560.0,104.7 L562.0,104.7 L564.0,104.8 L566.0,104.8 L568.0,104.8 L570.0,104.8 L572.0,104.9 L574.0,104.9 L576.0,104.9 L578.0,104.9 L580.0,105.0 L582.0,105.0 L584.0,105.0 L586.0,105.0 L588.0,105.1 L590.0,105.1 L592.0,105.1 L594.0,105.2 L596.0,105.2 L598.0,105.2 L600.0,105.2 L602.0,105.3 L604.0,105.3 L606.0,105.3 L608.0,105.3 L610.0,105.4 L612.0,105.4 L614.0,105.4 L616.0,105.4 L618.0,105.5 L620.0,105.5 L622.0,105.5 L624.0,105.6 L626.0,105.6 L628.0,105.6 L630.0,105.6 L632.0,105.7 L634.0,105.7 L636.0,105.7 L638.0,105.7 L640.0,105.8 L642.0,105.8 L644.0,105.8 L646.0,105.9 L648.0,105.9 L650.0,105.9 L652.0,106.0 L654.0,106.0 L656.0,106.0 L658.0,106.0 L660.0,106.1 L662.0,106.1 L664.0,106.1 L666.0,106.2 L668.0,106.2 L670.0,106.3 L672.0,106.3 L674.0,106.3 L676.0,106.4 L678.0,106.4 L680.0,106.4 L682.0,106.5 L684.0,106.5 L686.0,106.5 L688.0,106.6 L690.0,106.6 L692.0,106.7 L694.0,106.7 L696.0,106.7 L698.0,106.8 L700.0,106.8 L702.0,106.8 L704.0,106.9 L706.0,106.9 L708.0,106.9 L710.0,107.0 L712.0,107.0 L714.0,107.1 L716.0,107.1 L718.0,107.1 L720.0,107.1 L722.0,107.2 L724.0,107.2 L726.0,107.2 L728.0,107.3 L730.0,107.3 L732.0,107.3 L734.0,107.4 L736.0,107.4 L738.0,107.4 L740.0,107.5 L742.0,107.5 L744.0,107.5 L746.0,107.6 L748.0,107.6 L750.0,107.6 L752.0,107.7 L754.0,107.7 L756.0,107.7 L758.0,107.8 L760.0,107.8 L762.0,107.9 L764.0,107.9 L766.0,108.0 L768.0,108.0 L770.0,108.1 L772.0,108.1 L774.0,108.2 L776.0,108.2 L778.0,108.3 L780.0,108.4 L782.0,108.5 L784.0,108.5 L786.0,108.6 L788.0,108.7 L790.0,108.8 L792.0,108.9 L794.0,109.0 L796.0,109.1 L798.0,109.2 L800.0,109.3 L802.0,109.4 L804.0,109.5 L806.0,109.6 L808.0,109.7 L810.0,109.8 L812.0,109.9 L814.0,110.0 L816.0,110.1 L818.0,110.2 L820.0,110.2 L822.0,110.3 L824.0,110.4 L826.0,110.5 L828.0,110.6 L830.0,110.7 L832.0,110.8 L834.0,110.9 L836.0,111.0 L838.0,111.0 L840.0,111.1 L842.0,111.2 L844.0,111.3 L846.0,111.4 L848.0,111.4 L850.0,111.5 L852.0,111.6 L854.0,111.7 L856.0,111.8 L858.0,111.9 L860.0,112.0 L862.0,112.1 L864.0,112.1 L866.0,112.2 L868.0,112.3 L870.0,112.4 L872.0,112.5 L874.0,112.6 L876.0,112.7 L878.0,112.8 L880.0,112.9 L882.0,113.0 L884.0,113.2 L886.0,113.3 L888.0,113.4 L890.0,113.5 L892.0,113.6 L894.0,113.8 L896.0,113.9 L898.0,114.0 L900.0,114.2 L902.0,114.3 L904.0,114.5 L906.0,114.6 L908.0,114.7 L910.0,114.9 L912.0,115.0 L914.0,115.2 L916.0,115.3 L918.0,115.5 L920.0,115.6 L922.0,115.8 L924.0,115.9 L926.0,116.1 L928.0,116.2 L930.0,116.4 L932.0,116.5 L934.0,116.7 L936.0,116.8 L938.0,117.0 L940.0,117.1 L942.0,117.3 L944.0,117.4 L946.0,117.6 L948.0,117.7 L950.0,117.9 L952.0,118.0 L954.0,118.2 L956.0,118.3 L958.0,118.5 L960.0,118.6 L962.0,118.8 L964.0,118.9 L966.0,119.1 L968.0,119.2 L970.0,119.4 L972.0,119.5 L974.0,119.7 L976.0,119.9 L978.0,120.0 L980.0,120.2 L982.0,120.4 L984.0,120.5 L986.0,120.7 L988.0,120.9 L990.0,121.1 L992.0,121.3 L994.0,121.5 L996.0,121.7 L998.0,121.9 L1000.0,122.1 L1002.0,122.3 L1004.0,122.5 L1006.0,122.8 L1008.0,123.0 L1010.0,123.3 L1012.0,123.5 L1014.0,123.8 L1016.0,124.0 L1018.0,124.3 L1020.0,124.5 L1022.0,124.8 L1024.0,125.1 L1026.0,125.3 L1028.0,125.6 L1030.0,125.9 L1032.0,126.2 L1034.0,126.5 L1036.0,126.8 L1038.0,127.1 L1040.0,127.4 L1042.0,127.6 L1044.0,127.9 L1046.0,128.2 L1048.0,128.5 L1050.0,128.8 L1052.0,129.2 L1054.0,129.5 L1056.0,129.8 L1058.0,130.1 L1060.0,130.4 L1062.0,130.7 L1064.0,131.1 L1066.0,131.4 L1068.0,131.8 L1070.0,132.1 L1072.0,132.5 L1074.0,132.8 L1076.0,133.2 L1078.0,133.5 L1080.0,133.9 L1082.0,134.2 L1084.0,134.6 L1086.0,135.0 L1088.0,135.3 L1090.0,135.7 L1092.0,136.1 L1094.0,136.5 L1096.0,136.8 L1098.0,137.2 L1100.0,137.6 L1102.0,138.0 L1104.0,138.3 L1106.0,138.7 L1108.0,139.1 L1110.0,139.5 L1112.0,139.9 L1114.0,140.2 L1116.0,140.6 L1118.0,141.0 L1120.0,141.4 L1122.0,141.8 L1124.0,142.2 L1126.0,142.6 L1128.0,143.0 L1130.0,143.4 L1132.0,143.8 L1134.0,144.2 L1136.0,144.6 L1138.0,145.0 L1140.0,145.4 L1142.0,145.8 L1144.0,146.2 L1146.0,146.6 L1148.0,147.0 L1150.0,147.4 L1152.0,147.8 L1154.0,148.2 L1156.0,148.6 L1158.0,149.1 L1160.0,149.5 L1162.0,149.9 L1164.0,150.3 L1166.0,150.7 L1168.0,151.1 L1170.0,151.5 L1172.0,151.9 L1174.0,152.3 L1176.0,152.7 L1178.0,153.1 L1180.0,153.5 L1182.0,153.9 L1184.0,154.3 L1186.0,154.7 L1188.0,155.1 L1190.0,155.5 L1192.0,155.9 L1194.0,156.3 L1196.0,156.7 L1198.0,157.1 L1200.0,157.5 L1202.0,157.9 L1204.0,158.4 L1206.0,158.8 L1208.0,159.2 L1210.0,159.7 L1212.0,160.1 L1214.0,160.6 L1216.0,161.1 L1218.0,161.6 L1220.0,162.1 L1222.0,162.6 L1224.0,163.1 L1226.0,163.6 L1228.0,164.1 L1230.0,164.6 L1232.0,165.1 L1234.0,165.6 L1236.0,166.2 L1238.0,166.7 L1240.0,167.2 L1242.0,167.8 L1244.0,168.3 L1246.0,168.9 L1248.0,169.5 L1250.0,170.1 L1252.0,170.7 L1254.0,171.4 L1256.0,172.0 L1258.0,172.7 L1260.0,173.4 L1262.0,174.1 L1264.0,174.8 L1266.0,175.6 L1268.0,176.4 L1270.0,177.2 L1272.0,178.0 L1274.0,178.9 L1276.0,179.8 L1278.0,180.7 L1280.0,181.7 L1282.0,182.8 L1284.0,183.8 L1286.0,185.0 L1288.0,186.2 L1290.0,187.4 L1292.0,188.7 L1294.0,190.1 L1296.0,191.5 L1298.0,193.0 L1300.0,194.5 L1302.0,196.1 L1304.0,197.8 L1306.0,199.5 L1308.0,201.2 L1310.0,203.1 L1312.0,205.0 L1314.0,206.9 L1316.0,208.9 L1318.0,211.0 L1320.0,213.1 L1322.0,215.3 L1324.0,217.6 L1326.0,219.9 L1328.0,222.3 L1330.0,224.7 L1332.0,227.3 L1334.0,229.8 L1336.0,232.5 L1338.0,235.4 L1340.0,238.8 L1342.0,242.6 L1344.0,246.7 L1346.0,251.2 L1348.0,256.1 L1350.0,261.2 L1352.0,266.6 L1354.0,272.3 L1356.0,278.1 L1358.0,284.2 L1360.0,290.3 L1362.0,296.6 L1364.0,303.0 L1366.0,309.5 L1368.0,315.9 L1370.0,322.4 L1372.0,328.8 L1374.0,335.2 L1376.0,341.5 L1378.0,347.6 L1380.0,353.7 L1382.0,359.5 L1384.0,365.1 L1386.0,370.5 L1388.0,375.6 L1390.0,380.4 L1392.0,384.9 L1394.0,388.8 L1396.0,392.1 L1398.0,395.5 L1400.0,400.0 L1402.0,407.1 L1404.0,417.2 L1406.0,429.5 L1408.0,443.3 L1410.0,457.8 L1412.0,472.4 L1414.0,486.2 L1416.0,498.6 L1418.0,509.4 L1420.0,519.5 L1422.0,529.2 L1424.0,538.8 L1426.0,548.6 L1428.0,558.9 L1430.0,570.0 L1432.0,582.1 L1434.0,595.1 L1436.0,608.7 L1438.0,622.8 L1440.0,637.1 L1442.0,651.3 L1444.0,665.2 L1446.0,678.6 L1448.0,691.3 L1450.0,703.5 L1452.0,715.3 L1454.0,727.0 L1456.0,738.7 L1458.0,750.5 L1460.0,762.5 L1462.0,774.8 L1464.0,787.4 L1466.0,800.1 L1468.0,812.9 L1470.0,825.8 L1472.0,838.6 L1474.0,851.2 L1476.0,863.6 L1478.0,875.7 L1480.0,887.5 L1482.0,899.1 L1484.0,910.7 L1486.0,922.3 L1488.0,933.8 L1490.0,945.0 L1492.0,956.0 L1494.0,966.5 L1496.0,976.6 L1498.0,986.1 L1500.0,995.0 L1502.0,1002.8 L1504.0,1009.7 L1506.0,1016.6 L1508.0,1024.5 L1510.0,1034.9 L1512.0,1045.4 L1514.0,1053.0 L1516.0,1059.6 L1518.0,1065.6 L1520.0,1071.0 L1522.0,1075.9 L1524.0,1080.4 L1526.0,1084.6 L1528.0,1088.6 L1530.0,1092.4 L1532.0,1096.1 L1534.0,1099.5 L1536.0,1102.8 L1538.0,1105.9 L1540.0,1108.8 L1542.0,1111.4 L1544.0,1113.9 L1546.0,1116.1 L1548.0,1118.3 L1550.0,1120.4 L1552.0,1122.3 L1554.0,1124.2 L1556.0,1126.0 L1558.0,1127.6 L1560.0,1129.1 L1562.0,1130.4 L1564.0,1131.5 L1566.0,1132.5 L1568.0,1133.4 L1570.0,1134.3 L1572.0,1135.1 L1574.0,1135.9 L1576.0,1136.7 L1578.0,1137.5 L1580.0,1138.2 L1582.0,1138.9 L1584.0,1139.6 L1586.0,1140.2 L1588.0,1140.9 L1590.0,1141.5 L1592.0,1142.1 L1594.0,1142.6 L1596.0,1143.2 L1598.0,1143.7 L1600.0,1144.2 L1602.0,1144.7 L1604.0,1145.1 L1606.0,1145.6 L1608.0,1146.0 L1610.0,1146.5 L1612.0,1146.9 L1614.0,1147.3 L1616.0,1147.7 L1618.0,1148.0 L1620.0,1148.4 L1622.0,1148.8 L1624.0,1149.2 L1626.0,1149.5 L1628.0,1149.9 L1630.0,1150.2 L1632.0,1150.5 L1634.0,1150.8 L1636.0,1151.1 L1638.0,1151.4 L1640.0,1151.7 L1642.0,1152.0 L1644.0,1152.3 L1646.0,1152.6 L1648.0,1152.8 L1650.0,1153.1 L1652.0,1153.4 L1654.0,1153.6 L1656.0,1153.9 L1658.0,1154.1 L1660.0,1154.3 L1662.0,1154.6 L1664.0,1154.8 L1666.0,1155.0 L1668.0,1155.2 L1670.0,1155.4 L1672.0,1155.6 L1674.0,1155.8 L1676.0,1156.1 L1678.0,1156.2 L1680.0,1156.4 L1682.0,1156.6 L1684.0,1156.8 L1686.0,1157.0 L1688.0,1157.2 L1690.0,1157.3 L1692.0,1157.5 L1694.0,1157.7 L1696.0,1157.8 L1698.0,1158.0 L1700.0,1158.1 L1702.0,1158.3 L1704.0,1158.4 L1706.0,1158.6 L1708.0,1158.7 L1710.0,1158.8 L1712.0,1159.0 L1714.0,1159.1 L1716.0,1159.3 L1718.0,1159.4 L1720.0,1159.6 L1722.0,1159.7 L1724.0,1159.9 L1726.0,1160.0 L1728.0,1160.2 L1730.0,1160.3 L1732.0,1160.5 L1734.0,1160.7 L1736.0,1160.8 L1738.0,1161.0 L1740.0,1161.2 L1742.0,1161.4 L1744.0,1161.6 L1746.0,1161.8 L1748.0,1161.9 L1750.0,1162.1 L1752.0,1162.3 L1754.0,1162.5 L1756.0,1162.7 L1758.0,1162.9 L1760.0,1163.1 L1762.0,1163.3 L1764.0,1163.5 L1766.0,1163.7 L1768.0,1163.9 L1770.0,1164.1 L1772.0,1164.3 L1774.0,1164.5 L1776.0,1164.7 L1778.0,1164.9 L1780.0,1165.1 L1782.0,1165.3 L1784.0,1165.5 L1786.0,1165.7 L1788.0,1165.9 L1790.0,1166.1 L1792.0,1166.3 L1794.0,1166.5 L1796.0,1166.6 L1798.0,1166.8 L1800.0,1167.0 L1802.0,1167.2 L1804.0,1167.4 L1806.0,1167.5 L1808.0,1167.7 L1810.0,1167.9 L1812.0,1168.1 L1814.0,1168.2 L1816.0,1168.4 L1818.0,1168.6 L1820.0,1168.8 L1822.0,1168.9 L1824.0,1169.1 L1826.0,1169.3 L1828.0,1169.4 L1830.0,1169.6 L1832.0,1169.8 L1834.0,1170.0 L1836.0,1170.1 L1838.0,1170.3 L1840.0,1170.5 L1842.0,1170.7 L1844.0,1170.8 L1846.0,1171.0 L1848.0,1171.2 L1850.0,1171.4 L1852.0,1171.5 L1854.0,1171.7 L1856.0,1171.9 L1858.0,1172.1 L1860.0,1172.3 L1862.0,1172.4 L1864.0,1172.6 L1866.0,1172.8 L1868.0,1173.0 L1870.0,1173.2 L1872.0,1173.4 L1874.0,1173.5 L1876.0,1173.7 L1878.0,1173.9 L1880.0,1174.1 L1882.0,1174.3 L1884.0,1174.5 L1886.0,1174.6 L1888.0,1174.8 L1890.0,1175.0 L1892.0,1175.2 L1894.0,1175.3 L1896.0,1175.5 L1898.0,1175.7 L1900.0,1175.8 L1902.0,1176.0 L1904.0,1176.1 L1906.0,1176.3 L1908.0,1176.4 L1910.0,1176.6 L1912.0,1176.7 L1914.0,1176.9 L1916.0,1177.0 L1918.0,1177.2 L1920.0,1177.3 L1922.0,1177.4 L1924.0,1177.6 L1926.0,1177.7 L1928.0,1177.8 L1930.0,1177.9" fill="none" stroke="#000" stroke-width="4.2" stroke-linejoin="round"/>
<circle cx="274.7" cy="97.3" r="19.4" fill="#fff" stroke="#000" stroke-width="2.4"/>
<circle cx="322.9" cy="94.2" r="19.4" fill="#fff" stroke="#000" stroke-width="2.4"/>
<circle cx="382" cy="99.5" r="19.4" fill="#fff" stroke="#000" stroke-width="2.4"/>
<circle cx="437.5" cy="102.3" r="19.4" fill="#fff" stroke="#000" stroke-width="2.4"/>
<circle cx="492.5" cy="103.6" r="19.4" fill="#fff" stroke="#000" stroke-width="2.4"/>
<circle cx="545" cy="104.5" r="19.4" fill="#fff" stroke="#000" stroke-width="2.4"/>
<circle cx="597.5" cy="105.2" r="19.4" fill="#fff" stroke="#000" stroke-width="2.4"/>
<circle cx="655" cy="106" r="19.4" fill="#fff" stroke="#000" stroke-width="2.4"/>
<circle cx="711" cy="107" r="19.4" fill="#fff" stroke="#000" stroke-width="2.4"/>
<circle cx="768" cy="108" r="19.4" fill="#fff" stroke="#000" stroke-width="2.4"/>
<circle cx="825.5" cy="110.5" r="19.4" fill="#fff" stroke="#000" stroke-width="2.4"/>
<circle cx="881.25" cy="113" r="19.4" fill="#fff" stroke="#000" stroke-width="2.4"/>
<circle cx="938" cy="117" r="19.4" fill="#fff" stroke="#000" stroke-width="2.4"/>
<circle cx="994.25" cy="121.5" r="19.4" fill="#fff" stroke="#000" stroke-width="2.4"/>
<circle cx="1051" cy="129" r="19.4" fill="#fff" stroke="#000" stroke-width="2.4"/>
<circle cx="1107.5" cy="139" r="19.4" fill="#fff" stroke="#000" stroke-width="2.4"/>
<circle cx="1165" cy="150.5" r="19.4" fill="#fff" stroke="#000" stroke-width="2.4"/>
<circle cx="1221.75" cy="162.5" r="19.4" fill="#fff" stroke="#000" stroke-width="2.4"/>
<circle cx="1277.5" cy="180.5" r="19.4" fill="#fff" stroke="#000" stroke-width="2.4"/>
<circle cx="1336" cy="232.5" r="19.4" fill="#fff" stroke="#000" stroke-width="2.4"/>
<circle cx="1392.5" cy="386" r="19.4" fill="#fff" stroke="#000" stroke-width="2.4"/>
<circle cx="1447" cy="685" r="19.4" fill="#fff" stroke="#000" stroke-width="2.4"/>
<circle cx="1508" cy="1024.5" r="19.4" fill="#fff" stroke="#000" stroke-width="2.4"/>
<circle cx="1565" cy="1132" r="19.4" fill="#fff" stroke="#000" stroke-width="2.4"/>
<circle cx="1621.75" cy="1148.75" r="19.4" fill="#fff" stroke="#000" stroke-width="2.4"/>
<circle cx="1678" cy="1156.25" r="19.4" fill="#fff" stroke="#000" stroke-width="2.4"/>
<circle cx="1735" cy="1160.75" r="19.4" fill="#fff" stroke="#000" stroke-width="2.4"/>
<circle cx="1791.75" cy="1166.25" r="19.4" fill="#fff" stroke="#000" stroke-width="2.4"/>
<circle cx="1848.75" cy="1171.25" r="19.4" fill="#fff" stroke="#000" stroke-width="2.4"/>
<circle cx="1905.5" cy="1176.25" r="19.4" fill="#fff" stroke="#000" stroke-width="2.4"/>
<path d="M258.0,103.5 L260.0,103.4 L262.0,103.3 L264.0,103.2 L266.0,103.2 L268.0,103.1 L270.0,103.0 L272.0,102.9 L274.0,102.9 L276.0,102.8 L278.0,102.7 L280.0,102.6 L282.0,102.6 L284.0,102.5 L286.0,102.4 L288.0,102.3 L290.0,102.3 L292.0,102.2 L294.0,102.1 L296.0,102.1 L298.0,102.0 L300.0,102.0 L302.0,101.9 L304.0,101.9 L306.0,101.8 L308.0,101.8 L310.0,101.8 L312.0,101.7 L314.0,101.7 L316.0,101.7 L318.0,101.7 L320.0,101.7 L322.0,101.7 L324.0,101.8 L326.0,101.8 L328.0,101.9 L330.0,101.9 L332.0,102.0 L334.0,102.1 L336.0,102.2 L338.0,102.3 L340.0,102.4 L342.0,102.6 L344.0,102.7 L346.0,102.8 L348.0,103.0 L350.0,103.1 L352.0,103.2 L354.0,103.4 L356.0,103.5 L358.0,103.7 L360.0,103.8 L362.0,103.9 L364.0,104.1 L366.0,104.2 L368.0,104.3 L370.0,104.5 L372.0,104.6 L374.0,104.7 L376.0,104.8 L378.0,104.9 L380.0,105.0 L382.0,105.1 L384.0,105.2 L386.0,105.3 L388.0,105.4 L390.0,105.5 L392.0,105.6 L394.0,105.7 L396.0,105.8 L398.0,105.9 L400.0,106.0 L402.0,106.1 L404.0,106.2 L406.0,106.3 L408.0,106.3 L410.0,106.4 L412.0,106.5 L414.0,106.6 L416.0,106.7 L418.0,106.7 L420.0,106.8 L422.0,106.8 L424.0,106.9 L426.0,106.9 L428.0,107.0 L430.0,107.0 L432.0,107.0 L434.0,107.0 L436.0,107.0 L438.0,107.0 L440.0,107.0 L442.0,107.0 L444.0,107.0 L446.0,107.0 L448.0,107.0 L450.0,107.0 L452.0,107.0 L454.0,107.0 L456.0,107.0 L458.0,107.0 L460.0,107.0 L462.0,107.0 L464.0,107.0 L466.0,107.0 L468.0,107.0 L470.0,107.0 L472.0,107.0 L474.0,107.0 L476.0,107.0 L478.0,107.0 L480.0,107.0 L482.0,107.0 L484.0,107.0 L486.0,107.0 L488.0,107.0 L490.0,107.0 L492.0,107.0 L494.0,107.0 L496.0,107.0 L498.0,107.0 L500.0,107.0 L502.0,107.0 L504.0,107.0 L506.0,107.0 L508.0,107.0 L510.0,107.0 L512.0,107.0 L514.0,107.0 L516.0,107.0 L518.0,107.0 L520.0,107.0 L522.0,107.0 L524.0,107.0 L526.0,107.0 L528.0,107.0 L530.0,107.0 L532.0,107.0 L534.0,107.0 L536.0,107.0 L538.0,107.0 L540.0,107.0 L542.0,107.0 L544.0,107.0 L546.0,107.0 L548.0,107.0 L550.0,107.0 L552.0,107.0 L554.0,107.0 L556.0,107.0 L558.0,107.0 L560.0,107.0 L562.0,107.0 L564.0,107.0 L566.0,107.0 L568.0,107.0 L570.0,107.0 L572.0,107.0 L574.0,107.0 L576.0,107.0 L578.0,107.0 L580.0,107.0 L582.0,107.0 L584.0,107.0 L586.0,107.0 L588.0,107.0 L590.0,107.0 L592.0,107.0 L594.0,107.0 L596.0,107.0 L598.0,107.0 L600.0,107.0 L602.0,107.0 L604.0,107.0 L606.0,107.0 L608.0,107.0 L610.0,107.0 L612.0,107.0 L614.0,107.0 L616.0,107.0 L618.0,107.0 L620.0,107.0 L622.0,107.0 L624.0,107.0 L626.0,107.0 L628.0,107.0 L630.0,107.0 L632.0,107.0 L634.0,107.0 L636.0,107.0 L638.0,107.0 L640.0,107.0 L642.0,107.0 L644.0,107.0 L646.0,107.0 L648.0,107.0 L650.0,107.0 L652.0,107.0 L654.0,107.0 L656.0,107.0 L658.0,107.0 L660.0,107.0 L662.0,107.0 L664.0,107.0 L666.0,107.0 L668.0,107.0 L670.0,107.0 L672.0,107.0 L674.0,107.0 L676.0,107.0 L678.0,107.0 L680.0,107.0 L682.0,107.0 L684.0,107.0 L686.0,107.0 L688.0,107.0 L690.0,107.0 L692.0,107.0 L694.0,107.0 L696.0,107.0 L698.0,107.0 L700.0,107.0 L702.0,107.0 L704.0,107.0 L706.0,107.0 L708.0,107.0 L710.0,107.0 L712.0,107.0 L714.0,107.0 L716.0,106.9 L718.0,106.9 L720.0,106.9 L722.0,106.9 L724.0,106.8 L726.0,106.8 L728.0,106.8 L730.0,106.7 L732.0,106.7 L734.0,106.7 L736.0,106.6 L738.0,106.6 L740.0,106.6 L742.0,106.5 L744.0,106.5 L746.0,106.5 L748.0,106.4 L750.0,106.4 L752.0,106.4 L754.0,106.4 L756.0,106.3 L758.0,106.3 L760.0,106.3 L762.0,106.3 L764.0,106.3 L766.0,106.3 L768.0,106.3 L770.0,106.4 L772.0,106.4 L774.0,106.5 L776.0,106.5 L778.0,106.6 L780.0,106.7 L782.0,106.7 L784.0,106.8 L786.0,106.9 L788.0,107.0 L790.0,107.1 L792.0,107.2 L794.0,107.3 L796.0,107.4 L798.0,107.5 L800.0,107.6 L802.0,107.7 L804.0,107.8 L806.0,107.8 L808.0,107.9 L810.0,108.0 L812.0,108.1 L814.0,108.1 L816.0,108.2 L818.0,108.2 L820.0,108.3 L822.0,108.3 L824.0,108.3 L826.0,108.4 L828.0,108.4 L830.0,108.4 L832.0,108.4 L834.0,108.5 L836.0,108.5 L838.0,108.5 L840.0,108.5 L842.0,108.5 L844.0,108.5 L846.0,108.6 L848.0,108.6 L850.0,108.6 L852.0,108.6 L854.0,108.6 L856.0,108.6 L858.0,108.6 L860.0,108.7 L862.0,108.7 L864.0,108.7 L866.0,108.7 L868.0,108.7 L870.0,108.7 L872.0,108.8 L874.0,108.8 L876.0,108.8 L878.0,108.8 L880.0,108.8 L882.0,108.9 L884.0,108.9 L886.0,108.9 L888.0,108.9 L890.0,108.9 L892.0,109.0 L894.0,109.0 L896.0,109.0 L898.0,109.0 L900.0,109.0 L902.0,109.1 L904.0,109.1 L906.0,109.1 L908.0,109.1 L910.0,109.2 L912.0,109.2 L914.0,109.2 L916.0,109.2 L918.0,109.3 L920.0,109.3 L922.0,109.3 L924.0,109.4 L926.0,109.4 L928.0,109.4 L930.0,109.5 L932.0,109.5 L934.0,109.5 L936.0,109.6 L938.0,109.6 L940.0,109.7 L942.0,109.7 L944.0,109.8 L946.0,109.9 L948.0,109.9 L950.0,110.0 L952.0,110.1 L954.0,110.2 L956.0,110.2 L958.0,110.3 L960.0,110.4 L962.0,110.5 L964.0,110.6 L966.0,110.7 L968.0,110.8 L970.0,110.9 L972.0,111.0 L974.0,111.1 L976.0,111.2 L978.0,111.3 L980.0,111.5 L982.0,111.6 L984.0,111.7 L986.0,111.8 L988.0,111.9 L990.0,112.0 L992.0,112.2 L994.0,112.3 L996.0,112.4 L998.0,112.6 L1000.0,112.7 L1002.0,112.9 L1004.0,113.0 L1006.0,113.2 L1008.0,113.4 L1010.0,113.6 L1012.0,113.7 L1014.0,113.9 L1016.0,114.1 L1018.0,114.3 L1020.0,114.5 L1022.0,114.7 L1024.0,114.9 L1026.0,115.1 L1028.0,115.3 L1030.0,115.6 L1032.0,115.8 L1034.0,116.0 L1036.0,116.3 L1038.0,116.5 L1040.0,116.7 L1042.0,117.0 L1044.0,117.2 L1046.0,117.5 L1048.0,117.8 L1050.0,118.1 L1052.0,118.4 L1054.0,118.7 L1056.0,119.0 L1058.0,119.4 L1060.0,119.8 L1062.0,120.2 L1064.0,120.6 L1066.0,121.0 L1068.0,121.4 L1070.0,121.8 L1072.0,122.2 L1074.0,122.7 L1076.0,123.1 L1078.0,123.5 L1080.0,124.0 L1082.0,124.4 L1084.0,124.8 L1086.0,125.3 L1088.0,125.7 L1090.0,126.1 L1092.0,126.5 L1094.0,126.9 L1096.0,127.2 L1098.0,127.6 L1100.0,127.9 L1102.0,128.3 L1104.0,128.6 L1106.0,128.9 L1108.0,129.2 L1110.0,129.5 L1112.0,129.7 L1114.0,130.0 L1116.0,130.3 L1118.0,130.5 L1120.0,130.8 L1122.0,131.1 L1124.0,131.3 L1126.0,131.6 L1128.0,131.8 L1130.0,132.1 L1132.0,132.3 L1134.0,132.6 L1136.0,132.8 L1138.0,133.1 L1140.0,133.3 L1142.0,133.6 L1144.0,133.8 L1146.0,134.0 L1148.0,134.3 L1150.0,134.6 L1152.0,134.8 L1154.0,135.1 L1156.0,135.4 L1158.0,135.6 L1160.0,135.9 L1162.0,136.2 L1164.0,136.5 L1166.0,136.7 L1168.0,137.0 L1170.0,137.3 L1172.0,137.5 L1174.0,137.8 L1176.0,138.0 L1178.0,138.3 L1180.0,138.6 L1182.0,138.8 L1184.0,139.1 L1186.0,139.4 L1188.0,139.7 L1190.0,140.0 L1192.0,140.2 L1194.0,140.5 L1196.0,140.8 L1198.0,141.1 L1200.0,141.5 L1202.0,141.8 L1204.0,142.1 L1206.0,142.4 L1208.0,142.8 L1210.0,143.2 L1212.0,143.5 L1214.0,143.9 L1216.0,144.3 L1218.0,144.7 L1220.0,145.1 L1222.0,145.6 L1224.0,146.0 L1226.0,146.5 L1228.0,146.9 L1230.0,147.4 L1232.0,147.9 L1234.0,148.4 L1236.0,148.9 L1238.0,149.5 L1240.0,150.0 L1242.0,150.6 L1244.0,151.2 L1246.0,151.8 L1248.0,152.4 L1250.0,153.0 L1252.0,153.7 L1254.0,154.3 L1256.0,155.0 L1258.0,155.7 L1260.0,156.4 L1262.0,157.2 L1264.0,157.9 L1266.0,158.7 L1268.0,159.5 L1270.0,160.3 L1272.0,161.1 L1274.0,161.9 L1276.0,162.8 L1278.0,163.7 L1280.0,164.7 L1282.0,165.6 L1284.0,166.7 L1286.0,167.7 L1288.0,168.8 L1290.0,169.9 L1292.0,171.1 L1294.0,172.3 L1296.0,173.5 L1298.0,174.8 L1300.0,176.1 L1302.0,177.5 L1304.0,178.8 L1306.0,180.3 L1308.0,181.7 L1310.0,183.3 L1312.0,184.8 L1314.0,186.4 L1316.0,188.0 L1318.0,189.7 L1320.0,191.4 L1322.0,193.2 L1324.0,195.0 L1326.0,196.9 L1328.0,198.8 L1330.0,200.7 L1332.0,202.7 L1334.0,204.8 L1336.0,207.0 L1338.0,209.3 L1340.0,211.7 L1342.0,214.2 L1344.0,216.8 L1346.0,219.5 L1348.0,222.3 L1350.0,225.2 L1352.0,228.3 L1354.0,231.4 L1356.0,234.7 L1358.0,238.0 L1360.0,241.5 L1362.0,245.1 L1364.0,248.8 L1366.0,252.6 L1368.0,256.5 L1370.0,260.6 L1372.0,264.7 L1374.0,269.0 L1376.0,273.3 L1378.0,277.8 L1380.0,282.4 L1382.0,287.2 L1384.0,292.0 L1386.0,296.9 L1388.0,302.0 L1390.0,307.4 L1392.0,314.3 L1394.0,321.9 L1396.0,329.5 L1398.0,336.5 L1400.0,343.3 L1402.0,350.2 L1404.0,357.0 L1406.0,364.0 L1408.0,371.2 L1410.0,378.7 L1412.0,386.5 L1414.0,394.7 L1416.0,403.2 L1418.0,411.8 L1420.0,420.4 L1422.0,428.8 L1424.0,437.0 L1426.0,445.4 L1428.0,454.3 L1430.0,464.1 L1432.0,475.4 L1434.0,489.8 L1436.0,505.9 L1438.0,522.0 L1440.0,536.2 L1442.0,546.9 L1444.0,555.3 L1446.0,562.5 L1448.0,568.9 L1450.0,575.0 L1452.0,581.3 L1454.0,588.3 L1456.0,596.5 L1458.0,606.6 L1460.0,618.9 L1462.0,632.5 L1464.0,646.6 L1466.0,660.4 L1468.0,674.7 L1470.0,689.4 L1472.0,704.6 L1474.0,720.3 L1476.0,736.4 L1478.0,753.2 L1480.0,771.1 L1482.0,791.2 L1484.0,810.0 L1486.0,823.9 L1488.0,834.7 L1490.0,843.9 L1492.0,852.1 L1494.0,859.8 L1496.0,867.5 L1498.0,875.8 L1500.0,884.9 L1502.0,894.5 L1504.0,904.2 L1506.0,913.7 L1508.0,922.8 L1510.0,931.0 L1512.0,938.7 L1514.0,946.1 L1516.0,953.2 L1518.0,959.8 L1520.0,965.9 L1522.0,971.3 L1524.0,976.3 L1526.0,981.0 L1528.0,985.4 L1530.0,989.5 L1532.0,993.4 L1534.0,997.1 L1536.0,1000.6 L1538.0,1004.1 L1540.0,1007.7 L1542.0,1011.1 L1544.0,1014.5 L1546.0,1017.7 L1548.0,1020.7 L1550.0,1023.5 L1552.0,1025.9 L1554.0,1028.0 L1556.0,1029.6 L1558.0,1031.0 L1560.0,1032.3 L1562.0,1033.6 L1564.0,1034.8 L1566.0,1036.0 L1568.0,1037.1 L1570.0,1038.2 L1572.0,1039.2 L1574.0,1040.2 L1576.0,1041.1 L1578.0,1042.0 L1580.0,1042.9 L1582.0,1043.7 L1584.0,1044.5 L1586.0,1045.2 L1588.0,1046.0 L1590.0,1046.7 L1592.0,1047.3 L1594.0,1048.0 L1596.0,1048.6 L1598.0,1049.2 L1600.0,1049.8 L1602.0,1050.4 L1604.0,1050.9 L1606.0,1051.5 L1608.0,1052.0 L1610.0,1052.5 L1612.0,1053.0 L1614.0,1053.6 L1616.0,1054.1 L1618.0,1054.6 L1620.0,1055.1 L1622.0,1055.5 L1624.0,1056.0 L1626.0,1056.5 L1628.0,1057.0 L1630.0,1057.4 L1632.0,1057.8 L1634.0,1058.3 L1636.0,1058.7 L1638.0,1059.1 L1640.0,1059.5 L1642.0,1059.9 L1644.0,1060.3 L1646.0,1060.6 L1648.0,1061.0 L1650.0,1061.3 L1652.0,1061.7 L1654.0,1062.0 L1656.0,1062.3 L1658.0,1062.5 L1660.0,1062.8 L1662.0,1063.0 L1664.0,1063.3 L1666.0,1063.5 L1668.0,1063.7 L1670.0,1063.8 L1672.0,1064.0 L1674.0,1064.2 L1676.0,1064.3 L1678.0,1064.4 L1680.0,1064.6 L1682.0,1064.7 L1684.0,1064.8 L1686.0,1064.9 L1688.0,1065.0 L1690.0,1065.1 L1692.0,1065.2 L1694.0,1065.3 L1696.0,1065.4 L1698.0,1065.5 L1700.0,1065.5 L1702.0,1065.6 L1704.0,1065.7 L1706.0,1065.8 L1708.0,1065.9 L1710.0,1066.0 L1712.0,1066.1 L1714.0,1066.2 L1716.0,1066.3 L1718.0,1066.4 L1720.0,1066.5 L1722.0,1066.6 L1724.0,1066.7 L1726.0,1066.8 L1728.0,1067.0 L1730.0,1067.1 L1732.0,1067.3 L1734.0,1067.4 L1736.0,1067.6 L1738.0,1067.8 L1740.0,1067.9 L1742.0,1068.1 L1744.0,1068.3 L1746.0,1068.5 L1748.0,1068.7 L1750.0,1068.9 L1752.0,1069.1 L1754.0,1069.2 L1756.0,1069.4 L1758.0,1069.6 L1760.0,1069.8 L1762.0,1070.0 L1764.0,1070.2 L1766.0,1070.4 L1768.0,1070.6 L1770.0,1070.8 L1772.0,1071.0 L1774.0,1071.1 L1776.0,1071.3 L1778.0,1071.5 L1780.0,1071.7 L1782.0,1071.8 L1784.0,1072.0 L1786.0,1072.1 L1788.0,1072.3 L1790.0,1072.4 L1792.0,1072.6 L1794.0,1072.7 L1796.0,1072.8 L1798.0,1073.0 L1800.0,1073.1 L1802.0,1073.3 L1804.0,1073.4 L1806.0,1073.5 L1808.0,1073.7 L1810.0,1073.8 L1812.0,1073.9 L1814.0,1074.1 L1816.0,1074.2 L1818.0,1074.3 L1820.0,1074.4 L1822.0,1074.6 L1824.0,1074.7 L1826.0,1074.9 L1828.0,1075.0 L1830.0,1075.1 L1832.0,1075.3 L1834.0,1075.4 L1836.0,1075.6 L1838.0,1075.7 L1840.0,1075.8 L1842.0,1076.0 L1844.0,1076.2 L1846.0,1076.3 L1848.0,1076.5 L1850.0,1076.6 L1852.0,1076.8 L1854.0,1077.0 L1856.0,1077.1 L1858.0,1077.3 L1860.0,1077.5 L1862.0,1077.6 L1864.0,1077.8 L1866.0,1078.0 L1868.0,1078.1 L1870.0,1078.3 L1872.0,1078.5 L1874.0,1078.6 L1876.0,1078.8 L1878.0,1079.0 L1880.0,1079.1 L1882.0,1079.3 L1884.0,1079.5 L1886.0,1079.6 L1888.0,1079.8 L1890.0,1080.0 L1892.0,1080.1 L1894.0,1080.3 L1896.0,1080.4 L1898.0,1080.6 L1900.0,1080.7 L1902.0,1080.9 L1904.0,1081.0 L1906.0,1081.2 L1908.0,1081.3 L1910.0,1081.5 L1912.0,1081.6 L1914.0,1081.8 L1916.0,1081.9 L1918.0,1082.1 L1920.0,1082.2 L1922.0,1082.4 L1924.0,1082.5 L1926.0,1082.6 L1928.0,1082.8 L1930.0,1082.9" fill="none" stroke="#ff00ff" stroke-width="6" stroke-linejoin="round"/>
<polygon points="270.0,74.4 294.8,117.3 245.2,117.3" fill="#ff00ff"/>
<polygon points="318.0,73.1 342.8,116.0 293.2,116.0" fill="#ff00ff"/>
<polygon points="378.3,76.3 403.1,119.2 353.6,119.2" fill="#ff00ff"/>
<polygon points="433.8,78.4 458.5,121.3 409.0,121.3" fill="#ff00ff"/>
<polygon points="486.2,78.4 511.0,121.3 461.5,121.3" fill="#ff00ff"/>
<polygon points="538.8,78.4 563.5,121.3 514.0,121.3" fill="#ff00ff"/>
<polygon points="592.5,78.4 617.2,121.3 567.8,121.3" fill="#ff00ff"/>
<polygon points="648.8,78.4 673.5,121.3 624.0,121.3" fill="#ff00ff"/>
<polygon points="706.2,78.4 731.0,121.3 681.5,121.3" fill="#ff00ff"/>
<polygon points="763.5,77.7 788.2,120.6 738.8,120.6" fill="#ff00ff"/>
<polygon points="821.0,79.7 845.8,122.6 796.2,122.6" fill="#ff00ff"/>
<polygon points="876.0,80.2 900.8,123.1 851.2,123.1" fill="#ff00ff"/>
<polygon points="932.2,80.9 957.0,123.8 907.5,123.8" fill="#ff00ff"/>
<polygon points="989.2,83.4 1014.0,126.3 964.5,126.3" fill="#ff00ff"/>
<polygon points="1046.0,88.9 1070.8,131.8 1021.2,131.8" fill="#ff00ff"/>
<polygon points="1102.2,99.7 1127.0,142.6 1077.5,142.6" fill="#ff00ff"/>
<polygon points="1159.2,107.2 1184.0,150.1 1134.5,150.1" fill="#ff00ff"/>
<polygon points="1215.5,115.6 1240.2,158.5 1190.8,158.5" fill="#ff00ff"/>
<polygon points="1272.5,132.7 1297.2,175.6 1247.8,175.6" fill="#ff00ff"/>
<polygon points="1331.3,173.4 1356.0,216.3 1306.5,216.3" fill="#ff00ff"/>
<polygon points="1389.0,276.0 1413.8,318.9 1364.2,318.9" fill="#ff00ff"/>
<polygon points="1441.2,514.7 1466.0,557.6 1416.5,557.6" fill="#ff00ff"/>
<polygon points="1498.5,849.4 1523.2,892.3 1473.8,892.3" fill="#ff00ff"/>
<polygon points="1556.0,1001.0 1580.8,1043.9 1531.2,1043.9" fill="#ff00ff"/>
<polygon points="1613.0,1024.7 1637.8,1067.6 1588.2,1067.6" fill="#ff00ff"/>
<polygon points="1670.0,1035.3 1694.8,1078.1 1645.2,1078.1" fill="#ff00ff"/>
<polygon points="1726.0,1038.3 1750.8,1081.1 1701.2,1081.1" fill="#ff00ff"/>
<polygon points="1782.5,1043.3 1807.2,1086.1 1757.8,1086.1" fill="#ff00ff"/>
<polygon points="1840.0,1047.3 1864.8,1090.1 1815.2,1090.1" fill="#ff00ff"/>
<polygon points="1895.0,1051.8 1919.8,1094.6 1870.2,1094.6" fill="#ff00ff"/>
<path d="M258.0,105.0 L260.0,105.0 L262.0,105.0 L264.0,105.0 L266.0,105.0 L268.0,105.0 L270.0,105.0 L272.0,104.9 L274.0,104.9 L276.0,104.9 L278.0,104.9 L280.0,104.9 L282.0,104.8 L284.0,104.8 L286.0,104.8 L288.0,104.8 L290.0,104.8 L292.0,104.8 L294.0,104.8 L296.0,104.8 L298.0,104.8 L300.0,104.8 L302.0,104.8 L304.0,104.8 L306.0,104.8 L308.0,104.8 L310.0,104.8 L312.0,104.8 L314.0,104.8 L316.0,104.8 L318.0,104.8 L320.0,104.8 L322.0,104.8 L324.0,104.8 L326.0,104.8 L328.0,104.8 L330.0,104.8 L332.0,104.8 L334.0,104.8 L336.0,104.8 L338.0,104.8 L340.0,104.8 L342.0,104.8 L344.0,104.8 L346.0,104.8 L348.0,104.8 L350.0,104.8 L352.0,104.8 L354.0,104.8 L356.0,104.8 L358.0,104.8 L360.0,104.8 L362.0,104.8 L364.0,104.8 L366.0,104.8 L368.0,104.8 L370.0,104.8 L372.0,104.8 L374.0,104.8 L376.0,104.8 L378.0,104.8 L380.0,104.8 L382.0,104.8 L384.0,104.8 L386.0,104.8 L388.0,104.8 L390.0,104.8 L392.0,104.8 L394.0,104.8 L396.0,104.8 L398.0,104.8 L400.0,104.8 L402.0,104.8 L404.0,104.8 L406.0,104.8 L408.0,104.8 L410.0,104.8 L412.0,104.8 L414.0,104.8 L416.0,104.8 L418.0,104.8 L420.0,104.8 L422.0,104.8 L424.0,104.8 L426.0,104.8 L428.0,104.8 L430.0,104.8 L432.0,104.8 L434.0,104.8 L436.0,104.8 L438.0,104.8 L440.0,104.8 L442.0,104.8 L444.0,104.8 L446.0,104.8 L448.0,104.8 L450.0,104.8 L452.0,104.8 L454.0,104.8 L456.0,104.8 L458.0,104.8 L460.0,104.8 L462.0,104.8 L464.0,104.8 L466.0,104.8 L468.0,104.8 L470.0,104.8 L472.0,104.8 L474.0,104.8 L476.0,104.8 L478.0,104.8 L480.0,104.8 L482.0,104.8 L484.0,104.8 L486.0,104.8 L488.0,104.8 L490.0,104.8 L492.0,104.8 L494.0,104.8 L496.0,104.8 L498.0,104.8 L500.0,104.8 L502.0,104.8 L504.0,104.8 L506.0,104.8 L508.0,104.8 L510.0,104.8 L512.0,104.8 L514.0,104.8 L516.0,104.8 L518.0,104.8 L520.0,104.8 L522.0,104.8 L524.0,104.8 L526.0,104.8 L528.0,104.8 L530.0,104.8 L532.0,104.8 L534.0,104.8 L536.0,104.8 L538.0,104.8 L540.0,104.8 L542.0,104.8 L544.0,104.8 L546.0,104.8 L548.0,104.8 L550.0,104.8 L552.0,104.8 L554.0,104.8 L556.0,104.8 L558.0,104.8 L560.0,104.8 L562.0,104.8 L564.0,104.8 L566.0,104.8 L568.0,104.8 L570.0,104.8 L572.0,104.8 L574.0,104.8 L576.0,104.8 L578.0,104.8 L580.0,104.8 L582.0,104.8 L584.0,104.8 L586.0,104.8 L588.0,104.8 L590.0,104.8 L592.0,104.8 L594.0,104.8 L596.0,104.8 L598.0,104.8 L600.0,104.8 L602.0,104.8 L604.0,104.8 L606.0,104.8 L608.0,104.8 L610.0,104.8 L612.0,104.8 L614.0,104.8 L616.0,104.8 L618.0,104.8 L620.0,104.8 L622.0,104.8 L624.0,104.8 L626.0,104.8 L628.0,104.8 L630.0,104.8 L632.0,104.8 L634.0,104.8 L636.0,104.8 L638.0,104.8 L640.0,104.8 L642.0,104.8 L644.0,104.8 L646.0,104.8 L648.0,104.8 L650.0,104.8 L652.0,104.8 L654.0,104.8 L656.0,104.8 L658.0,104.8 L660.0,104.8 L662.0,104.8 L664.0,104.8 L666.0,104.8 L668.0,104.8 L670.0,104.8 L672.0,104.8 L674.0,104.8 L676.0,104.8 L678.0,104.8 L680.0,104.8 L682.0,104.8 L684.0,104.8 L686.0,104.8 L688.0,104.8 L690.0,104.8 L692.0,104.8 L694.0,104.8 L696.0,104.8 L698.0,104.8 L700.0,104.8 L702.0,104.9 L704.0,104.9 L706.0,104.9 L708.0,104.9 L710.0,105.0 L712.0,105.0 L714.0,105.0 L716.0,105.1 L718.0,105.1 L720.0,105.1 L722.0,105.2 L724.0,105.2 L726.0,105.2 L728.0,105.3 L730.0,105.3 L732.0,105.3 L734.0,105.4 L736.0,105.4 L738.0,105.5 L740.0,105.5 L742.0,105.5 L744.0,105.6 L746.0,105.6 L748.0,105.7 L750.0,105.7 L752.0,105.8 L754.0,105.8 L756.0,105.9 L758.0,106.0 L760.0,106.0 L762.0,106.1 L764.0,106.2 L766.0,106.2 L768.0,106.3 L770.0,106.4 L772.0,106.4 L774.0,106.5 L776.0,106.6 L778.0,106.6 L780.0,106.7 L782.0,106.8 L784.0,106.8 L786.0,106.9 L788.0,107.0 L790.0,107.0 L792.0,107.1 L794.0,107.2 L796.0,107.2 L798.0,107.3 L800.0,107.3 L802.0,107.4 L804.0,107.4 L806.0,107.5 L808.0,107.5 L810.0,107.5 L812.0,107.6 L814.0,107.6 L816.0,107.7 L818.0,107.7 L820.0,107.8 L822.0,107.8 L824.0,107.9 L826.0,107.9 L828.0,107.9 L830.0,108.0 L832.0,108.0 L834.0,108.1 L836.0,108.1 L838.0,108.1 L840.0,108.2 L842.0,108.2 L844.0,108.3 L846.0,108.3 L848.0,108.4 L850.0,108.4 L852.0,108.4 L854.0,108.5 L856.0,108.5 L858.0,108.6 L860.0,108.6 L862.0,108.7 L864.0,108.7 L866.0,108.8 L868.0,108.8 L870.0,108.9 L872.0,108.9 L874.0,109.0 L876.0,109.0 L878.0,109.1 L880.0,109.1 L882.0,109.2 L884.0,109.2 L886.0,109.3 L888.0,109.3 L890.0,109.4 L892.0,109.4 L894.0,109.5 L896.0,109.5 L898.0,109.6 L900.0,109.6 L902.0,109.6 L904.0,109.7 L906.0,109.7 L908.0,109.7 L910.0,109.8 L912.0,109.8 L914.0,109.8 L916.0,109.8 L918.0,109.8 L920.0,109.9 L922.0,109.9 L924.0,109.9 L926.0,109.9 L928.0,109.9 L930.0,109.9 L932.0,109.9 L934.0,110.0 L936.0,110.0 L938.0,110.0 L940.0,110.0 L942.0,110.0 L944.0,110.0 L946.0,110.0 L948.0,110.0 L950.0,110.1 L952.0,110.1 L954.0,110.1 L956.0,110.1 L958.0,110.1 L960.0,110.2 L962.0,110.2 L964.0,110.2 L966.0,110.2 L968.0,110.3 L970.0,110.3 L972.0,110.4 L974.0,110.5 L976.0,110.6 L978.0,110.7 L980.0,110.9 L982.0,111.0 L984.0,111.2 L986.0,111.3 L988.0,111.5 L990.0,111.7 L992.0,111.9 L994.0,112.1 L996.0,112.3 L998.0,112.5 L1000.0,112.7 L1002.0,113.0 L1004.0,113.2 L1006.0,113.4 L1008.0,113.6 L1010.0,113.9 L1012.0,114.1 L1014.0,114.3 L1016.0,114.6 L1018.0,114.8 L1020.0,115.0 L1022.0,115.2 L1024.0,115.4 L1026.0,115.6 L1028.0,115.8 L1030.0,116.1 L1032.0,116.3 L1034.0,116.5 L1036.0,116.7 L1038.0,117.0 L1040.0,117.2 L1042.0,117.4 L1044.0,117.7 L1046.0,117.9 L1048.0,118.2 L1050.0,118.4 L1052.0,118.7 L1054.0,118.9 L1056.0,119.2 L1058.0,119.4 L1060.0,119.7 L1062.0,120.0 L1064.0,120.2 L1066.0,120.5 L1068.0,120.8 L1070.0,121.0 L1072.0,121.3 L1074.0,121.6 L1076.0,121.8 L1078.0,122.1 L1080.0,122.4 L1082.0,122.6 L1084.0,122.9 L1086.0,123.2 L1088.0,123.5 L1090.0,123.7 L1092.0,124.0 L1094.0,124.3 L1096.0,124.6 L1098.0,124.9 L1100.0,125.2 L1102.0,125.5 L1104.0,125.8 L1106.0,126.1 L1108.0,126.4 L1110.0,126.7 L1112.0,127.0 L1114.0,127.3 L1116.0,127.6 L1118.0,127.9 L1120.0,128.2 L1122.0,128.5 L1124.0,128.8 L1126.0,129.0 L1128.0,129.3 L1130.0,129.6 L1132.0,129.9 L1134.0,130.2 L1136.0,130.5 L1138.0,130.7 L1140.0,131.0 L1142.0,131.3 L1144.0,131.5 L1146.0,131.8 L1148.0,132.0 L1150.0,132.2 L1152.0,132.5 L1154.0,132.7 L1156.0,133.0 L1158.0,133.2 L1160.0,133.4 L1162.0,133.7 L1164.0,133.9 L1166.0,134.1 L1168.0,134.4 L1170.0,134.6 L1172.0,134.9 L1174.0,135.1 L1176.0,135.4 L1178.0,135.6 L1180.0,135.9 L1182.0,136.2 L1184.0,136.5 L1186.0,136.8 L1188.0,137.1 L1190.0,137.4 L1192.0,137.7 L1194.0,138.1 L1196.0,138.4 L1198.0,138.8 L1200.0,139.2 L1202.0,139.6 L1204.0,139.9 L1206.0,140.3 L1208.0,140.8 L1210.0,141.2 L1212.0,141.6 L1214.0,142.1 L1216.0,142.5 L1218.0,143.0 L1220.0,143.5 L1222.0,143.9 L1224.0,144.4 L1226.0,145.0 L1228.0,145.5 L1230.0,146.0 L1232.0,146.6 L1234.0,147.1 L1236.0,147.7 L1238.0,148.3 L1240.0,148.9 L1242.0,149.5 L1244.0,150.2 L1246.0,150.8 L1248.0,151.5 L1250.0,152.2 L1252.0,152.8 L1254.0,153.6 L1256.0,154.3 L1258.0,155.1 L1260.0,155.9 L1262.0,156.7 L1264.0,157.5 L1266.0,158.4 L1268.0,159.3 L1270.0,160.2 L1272.0,161.2 L1274.0,162.2 L1276.0,163.2 L1278.0,164.2 L1280.0,165.3 L1282.0,166.4 L1284.0,167.5 L1286.0,168.7 L1288.0,169.9 L1290.0,171.1 L1292.0,172.4 L1294.0,173.7 L1296.0,175.0 L1298.0,176.4 L1300.0,177.8 L1302.0,179.2 L1304.0,180.7 L1306.0,182.2 L1308.0,183.7 L1310.0,185.3 L1312.0,187.0 L1314.0,188.7 L1316.0,190.5 L1318.0,192.4 L1320.0,194.4 L1322.0,196.5 L1324.0,198.6 L1326.0,200.8 L1328.0,203.1 L1330.0,205.5 L1332.0,208.0 L1334.0,210.5 L1336.0,213.2 L1338.0,215.9 L1340.0,218.6 L1342.0,221.5 L1344.0,224.4 L1346.0,227.4 L1348.0,230.5 L1350.0,233.7 L1352.0,236.9 L1354.0,240.2 L1356.0,243.6 L1358.0,247.1 L1360.0,250.7 L1362.0,254.3 L1364.0,258.0 L1366.0,261.7 L1368.0,265.6 L1370.0,269.5 L1372.0,273.5 L1374.0,277.8 L1376.0,282.3 L1378.0,287.1 L1380.0,292.0 L1382.0,297.2 L1384.0,302.6 L1386.0,308.3 L1388.0,314.1 L1390.0,320.1 L1392.0,326.4 L1394.0,332.8 L1396.0,339.4 L1398.0,346.2 L1400.0,353.1 L1402.0,360.3 L1404.0,367.5 L1406.0,375.0 L1408.0,382.6 L1410.0,390.3 L1412.0,398.1 L1414.0,406.1 L1416.0,414.2 L1418.0,422.4 L1420.0,430.8 L1422.0,439.2 L1424.0,447.8 L1426.0,456.4 L1428.0,465.2 L1430.0,474.1 L1432.0,483.1 L1434.0,492.4 L1436.0,501.8 L1438.0,511.4 L1440.0,521.3 L1442.0,531.5 L1444.0,541.9 L1446.0,552.5 L1448.0,563.5 L1450.0,574.8 L1452.0,586.4 L1454.0,598.4 L1456.0,610.7 L1458.0,623.4 L1460.0,636.5 L1462.0,650.0 L1464.0,663.9 L1466.0,678.3 L1468.0,693.1 L1470.0,708.4 L1472.0,724.2 L1474.0,740.5 L1476.0,757.4 L1478.0,777.1 L1480.0,800.0 L1482.0,812.7 L1484.0,823.4 L1486.0,832.4 L1488.0,840.2 L1490.0,847.3 L1492.0,854.1 L1494.0,861.1 L1496.0,868.7 L1498.0,877.3 L1500.0,886.8 L1502.0,896.8 L1504.0,907.0 L1506.0,917.0 L1508.0,926.6 L1510.0,935.5 L1512.0,943.3 L1514.0,950.0 L1516.0,956.5 L1518.0,962.7 L1520.0,968.6 L1522.0,974.2 L1524.0,979.4 L1526.0,984.2 L1528.0,988.6 L1530.0,992.5 L1532.0,996.0 L1534.0,999.1 L1536.0,1001.9 L1538.0,1004.5 L1540.0,1006.9 L1542.0,1009.2 L1544.0,1011.3 L1546.0,1013.3 L1548.0,1015.2 L1550.0,1017.0 L1552.0,1018.8 L1554.0,1020.5 L1556.0,1022.2 L1558.0,1023.8 L1560.0,1025.4 L1562.0,1026.9 L1564.0,1028.3 L1566.0,1029.7 L1568.0,1031.0 L1570.0,1032.2 L1572.0,1033.4 L1574.0,1034.5 L1576.0,1035.5 L1578.0,1036.5 L1580.0,1037.4 L1582.0,1038.2 L1584.0,1039.0 L1586.0,1039.8 L1588.0,1040.6 L1590.0,1041.2 L1592.0,1041.9 L1594.0,1042.5 L1596.0,1043.1 L1598.0,1043.7 L1600.0,1044.2 L1602.0,1044.8 L1604.0,1045.3 L1606.0,1045.8 L1608.0,1046.3 L1610.0,1046.8 L1612.0,1047.3 L1614.0,1047.8 L1616.0,1048.3 L1618.0,1048.7 L1620.0,1049.2 L1622.0,1049.6 L1624.0,1050.0 L1626.0,1050.5 L1628.0,1050.9 L1630.0,1051.3 L1632.0,1051.6 L1634.0,1052.0 L1636.0,1052.4 L1638.0,1052.7 L1640.0,1053.1 L1642.0,1053.4 L1644.0,1053.8 L1646.0,1054.1 L1648.0,1054.4 L1650.0,1054.7 L1652.0,1055.0 L1654.0,1055.3 L1656.0,1055.6 L1658.0,1055.8 L1660.0,1056.1 L1662.0,1056.4 L1664.0,1056.6 L1666.0,1056.9 L1668.0,1057.1 L1670.0,1057.3 L1672.0,1057.6 L1674.0,1057.8 L1676.0,1058.0 L1678.0,1058.2 L1680.0,1058.5 L1682.0,1058.7 L1684.0,1058.9 L1686.0,1059.1 L1688.0,1059.3 L1690.0,1059.5 L1692.0,1059.7 L1694.0,1059.9 L1696.0,1060.1 L1698.0,1060.3 L1700.0,1060.5 L1702.0,1060.7 L1704.0,1060.9 L1706.0,1061.1 L1708.0,1061.3 L1710.0,1061.5 L1712.0,1061.7 L1714.0,1061.9 L1716.0,1062.1 L1718.0,1062.3 L1720.0,1062.5 L1722.0,1062.7 L1724.0,1062.8 L1726.0,1063.0 L1728.0,1063.2 L1730.0,1063.4 L1732.0,1063.6 L1734.0,1063.8 L1736.0,1063.9 L1738.0,1064.1 L1740.0,1064.3 L1742.0,1064.5 L1744.0,1064.6 L1746.0,1064.8 L1748.0,1065.0 L1750.0,1065.1 L1752.0,1065.3 L1754.0,1065.5 L1756.0,1065.6 L1758.0,1065.8 L1760.0,1065.9 L1762.0,1066.1 L1764.0,1066.2 L1766.0,1066.4 L1768.0,1066.5 L1770.0,1066.6 L1772.0,1066.8 L1774.0,1066.9 L1776.0,1067.0 L1778.0,1067.1 L1780.0,1067.3 L1782.0,1067.4 L1784.0,1067.5 L1786.0,1067.6 L1788.0,1067.7 L1790.0,1067.8 L1792.0,1068.0 L1794.0,1068.1 L1796.0,1068.2 L1798.0,1068.3 L1800.0,1068.4 L1802.0,1068.6 L1804.0,1068.7 L1806.0,1068.8 L1808.0,1069.0 L1810.0,1069.1 L1812.0,1069.3 L1814.0,1069.4 L1816.0,1069.6 L1818.0,1069.7 L1820.0,1069.9 L1822.0,1070.1 L1824.0,1070.3 L1826.0,1070.5 L1828.0,1070.7 L1830.0,1070.9 L1832.0,1071.1 L1834.0,1071.3 L1836.0,1071.6 L1838.0,1071.8 L1840.0,1072.0 L1842.0,1072.3 L1844.0,1072.5 L1846.0,1072.7 L1848.0,1073.0 L1850.0,1073.2 L1852.0,1073.5 L1854.0,1073.7 L1856.0,1074.0 L1858.0,1074.2 L1860.0,1074.4 L1862.0,1074.7 L1864.0,1074.9 L1866.0,1075.2 L1868.0,1075.4 L1870.0,1075.6 L1872.0,1075.8 L1874.0,1076.0 L1876.0,1076.2 L1878.0,1076.4 L1880.0,1076.6 L1882.0,1076.8 L1884.0,1077.0 L1886.0,1077.2 L1888.0,1077.3 L1890.0,1077.5 L1892.0,1077.7 L1894.0,1077.9 L1896.0,1078.0 L1898.0,1078.2 L1900.0,1078.4 L1902.0,1078.6 L1904.0,1078.7 L1906.0,1078.9 L1908.0,1079.1 L1910.0,1079.3 L1912.0,1079.5 L1914.0,1079.7 L1916.0,1079.9 L1918.0,1080.1 L1920.0,1080.4 L1922.0,1080.6 L1924.0,1080.9 L1926.0,1081.1 L1928.0,1081.5 L1930.0,1081.8" fill="none" stroke="#0000ff" stroke-width="5" stroke-linejoin="round"/>
<polygon points="262.0,81.5 267.3,97.7 284.3,97.7 270.5,107.8 275.8,124.0 262.0,114.0 248.2,124.0 253.5,107.8 239.7,97.7 256.7,97.7" fill="#0000ff"/>
<polygon points="295.5,81.2 300.8,97.5 317.8,97.5 304.0,107.5 309.3,123.8 295.5,113.7 281.7,123.8 287.0,107.5 273.2,97.5 290.2,97.5" fill="#0000ff"/>
<polygon points="353.8,81.2 359.0,97.5 376.1,97.5 362.3,107.5 367.6,123.8 353.8,113.7 339.9,123.8 345.2,107.5 331.4,97.5 348.5,97.5" fill="#0000ff"/>
<polygon points="410.8,81.2 416.0,97.5 433.1,97.5 419.3,107.5 424.6,123.8 410.8,113.7 396.9,123.8 402.2,107.5 388.4,97.5 405.5,97.5" fill="#0000ff"/>
<polygon points="464.5,81.2 469.8,97.5 486.8,97.5 473.0,107.5 478.3,123.8 464.5,113.7 450.7,123.8 456.0,107.5 442.2,97.5 459.2,97.5" fill="#0000ff"/>
<polygon points="517.0,81.2 522.3,97.5 539.3,97.5 525.5,107.5 530.8,123.8 517.0,113.7 503.2,123.8 508.5,107.5 494.7,97.5 511.7,97.5" fill="#0000ff"/>
<polygon points="571.2,81.2 576.5,97.5 593.6,97.5 579.8,107.5 585.1,123.8 571.2,113.7 557.4,123.8 562.7,107.5 548.9,97.5 566.0,97.5" fill="#0000ff"/>
<polygon points="627.0,81.2 632.3,97.5 649.3,97.5 635.5,107.5 640.8,123.8 627.0,113.7 613.2,123.8 618.5,107.5 604.7,97.5 621.7,97.5" fill="#0000ff"/>
<polygon points="683.8,81.2 689.0,97.5 706.1,97.5 692.3,107.5 697.6,123.8 683.8,113.7 669.9,123.8 675.2,107.5 661.4,97.5 678.5,97.5" fill="#0000ff"/>
<polygon points="740.0,82.0 745.3,98.2 762.3,98.2 748.5,108.3 753.8,124.5 740.0,114.5 726.2,124.5 731.5,108.3 717.7,98.2 734.7,98.2" fill="#0000ff"/>
<polygon points="797.5,83.8 802.8,100.0 819.8,100.0 806.0,110.0 811.3,126.3 797.5,116.2 783.7,126.3 789.0,110.0 775.2,100.0 792.2,100.0" fill="#0000ff"/>
<polygon points="854.8,85.0 860.0,101.2 877.1,101.2 863.3,111.3 868.6,127.5 854.8,117.5 840.9,127.5 846.2,111.3 832.4,101.2 849.5,101.2" fill="#0000ff"/>
<polygon points="909.2,86.2 914.5,102.5 931.6,102.5 917.8,112.5 923.1,128.8 909.2,118.7 895.4,128.8 900.7,112.5 886.9,102.5 904.0,102.5" fill="#0000ff"/>
<polygon points="966.2,86.8 971.5,103.0 988.6,103.0 974.8,113.0 980.1,129.3 966.2,119.2 952.4,129.3 957.7,113.0 943.9,103.0 961.0,103.0" fill="#0000ff"/>
<polygon points="1022.5,91.8 1027.8,108.0 1044.8,108.0 1031.0,118.0 1036.3,134.3 1022.5,124.2 1008.7,134.3 1014.0,118.0 1000.2,108.0 1017.2,108.0" fill="#0000ff"/>
<polygon points="1079.2,98.8 1084.5,115.0 1101.6,115.0 1087.8,125.0 1093.1,141.3 1079.2,131.2 1065.4,141.3 1070.7,125.0 1056.9,115.0 1074.0,115.0" fill="#0000ff"/>
<polygon points="1136.2,107.0 1141.5,123.2 1158.6,123.2 1144.8,133.3 1150.1,149.5 1136.2,139.5 1122.4,149.5 1127.7,133.3 1113.9,123.2 1131.0,123.2" fill="#0000ff"/>
<polygon points="1193.5,114.5 1198.8,130.7 1215.8,130.7 1202.0,140.8 1207.3,157.0 1193.5,147.0 1179.7,157.0 1185.0,140.8 1171.2,130.7 1188.2,130.7" fill="#0000ff"/>
<polygon points="1251.0,129.0 1256.3,145.2 1273.3,145.2 1259.5,155.3 1264.8,171.5 1251.0,161.5 1237.2,171.5 1242.5,155.3 1228.7,145.2 1245.7,145.2" fill="#0000ff"/>
<polygon points="1309.0,161.0 1314.3,177.2 1331.3,177.2 1317.5,187.3 1322.8,203.5 1309.0,193.5 1295.2,203.5 1300.5,187.3 1286.7,177.2 1303.7,177.2" fill="#0000ff"/>
<polygon points="1370.8,247.5 1376.0,263.7 1393.1,263.7 1379.3,273.8 1384.6,290.0 1370.8,280.0 1356.9,290.0 1362.2,273.8 1348.4,263.7 1365.5,263.7" fill="#0000ff"/>
<polygon points="1426.2,434.0 1431.5,450.2 1448.6,450.2 1434.8,460.3 1440.1,476.5 1426.2,466.5 1412.4,476.5 1417.7,460.3 1403.9,450.2 1421.0,450.2" fill="#0000ff"/>
<polygon points="1477.0,742.5 1482.3,758.7 1499.3,758.7 1485.5,768.8 1490.8,785.0 1477.0,775.0 1463.2,785.0 1468.5,768.8 1454.7,758.7 1471.7,758.7" fill="#0000ff"/>
<polygon points="1532.0,972.5 1537.3,988.7 1554.3,988.7 1540.5,998.8 1545.8,1015.0 1532.0,1005.0 1518.2,1015.0 1523.5,998.8 1509.7,988.7 1526.7,988.7" fill="#0000ff"/>
<polygon points="1594.0,1019.0 1599.3,1035.2 1616.3,1035.2 1602.5,1045.3 1607.8,1061.5 1594.0,1051.5 1580.2,1061.5 1585.5,1045.3 1571.7,1035.2 1588.7,1035.2" fill="#0000ff"/>
<polygon points="1650.0,1031.2 1655.3,1047.4 1672.3,1047.4 1658.5,1057.5 1663.8,1073.7 1650.0,1063.7 1636.2,1073.7 1641.5,1057.5 1627.7,1047.4 1644.7,1047.4" fill="#0000ff"/>
<polygon points="1705.0,1037.5 1710.3,1053.7 1727.3,1053.7 1713.5,1063.8 1718.8,1080.0 1705.0,1070.0 1691.2,1080.0 1696.5,1063.8 1682.7,1053.7 1699.7,1053.7" fill="#0000ff"/>
<polygon points="1761.0,1042.5 1766.3,1058.7 1783.3,1058.7 1769.5,1068.8 1774.8,1085.0 1761.0,1075.0 1747.2,1085.0 1752.5,1068.8 1738.7,1058.7 1755.7,1058.7" fill="#0000ff"/>
<polygon points="1817.5,1046.2 1822.8,1062.4 1839.8,1062.4 1826.0,1072.5 1831.3,1088.7 1817.5,1078.7 1803.7,1088.7 1809.0,1072.5 1795.2,1062.4 1812.2,1062.4" fill="#0000ff"/>
<polygon points="1873.8,1052.5 1879.0,1068.7 1896.1,1068.7 1882.3,1078.8 1887.6,1095.0 1873.8,1085.0 1859.9,1095.0 1865.2,1078.8 1851.4,1068.7 1868.5,1068.7" fill="#0000ff"/>
<polygon points="1925.0,1057.5 1930.3,1073.7 1947.3,1073.7 1933.5,1083.8 1938.8,1100.0 1925.0,1090.0 1911.2,1100.0 1916.5,1083.8 1902.7,1073.7 1919.7,1073.7" fill="#0000ff"/>
<path d="M258.0,108.5 L260.0,108.4 L262.0,108.3 L264.0,108.1 L266.0,107.9 L268.0,107.6 L270.0,107.3 L272.0,107.0 L274.0,106.6 L276.0,106.2 L278.0,105.8 L280.0,105.5 L282.0,105.1 L284.0,104.8 L286.0,104.5 L288.0,104.3 L290.0,104.1 L292.0,104.0 L294.0,104.0 L296.0,104.0 L298.0,104.0 L300.0,104.1 L302.0,104.1 L304.0,104.1 L306.0,104.2 L308.0,104.3 L310.0,104.3 L312.0,104.4 L314.0,104.5 L316.0,104.6 L318.0,104.7 L320.0,104.7 L322.0,104.8 L324.0,104.9 L326.0,105.0 L328.0,105.1 L330.0,105.2 L332.0,105.3 L334.0,105.3 L336.0,105.4 L338.0,105.5 L340.0,105.5 L342.0,105.6 L344.0,105.6 L346.0,105.7 L348.0,105.7 L350.0,105.7 L352.0,105.7 L354.0,105.7 L356.0,105.7 L358.0,105.7 L360.0,105.7 L362.0,105.7 L364.0,105.7 L366.0,105.7 L368.0,105.7 L370.0,105.7 L372.0,105.7 L374.0,105.7 L376.0,105.7 L378.0,105.7 L380.0,105.7 L382.0,105.7 L384.0,105.7 L386.0,105.7 L388.0,105.7 L390.0,105.7 L392.0,105.7 L394.0,105.7 L396.0,105.7 L398.0,105.7 L400.0,105.7 L402.0,105.7 L404.0,105.7 L406.0,105.7 L408.0,105.7 L410.0,105.7 L412.0,105.7 L414.0,105.7 L416.0,105.7 L418.0,105.7 L420.0,105.7 L422.0,105.7 L424.0,105.7 L426.0,105.7 L428.0,105.7 L430.0,105.7 L432.0,105.7 L434.0,105.7 L436.0,105.7 L438.0,105.7 L440.0,105.7 L442.0,105.7 L444.0,105.7 L446.0,105.7 L448.0,105.7 L450.0,105.7 L452.0,105.7 L454.0,105.7 L456.0,105.7 L458.0,105.7 L460.0,105.7 L462.0,105.7 L464.0,105.7 L466.0,105.7 L468.0,105.7 L470.0,105.7 L472.0,105.7 L474.0,105.7 L476.0,105.7 L478.0,105.7 L480.0,105.7 L482.0,105.7 L484.0,105.7 L486.0,105.7 L488.0,105.7 L490.0,105.7 L492.0,105.7 L494.0,105.7 L496.0,105.7 L498.0,105.7 L500.0,105.7 L502.0,105.7 L504.0,105.7 L506.0,105.7 L508.0,105.7 L510.0,105.7 L512.0,105.7 L514.0,105.7 L516.0,105.7 L518.0,105.7 L520.0,105.7 L522.0,105.7 L524.0,105.7 L526.0,105.7 L528.0,105.7 L530.0,105.7 L532.0,105.7 L534.0,105.7 L536.0,105.7 L538.0,105.7 L540.0,105.7 L542.0,105.7 L544.0,105.7 L546.0,105.7 L548.0,105.7 L550.0,105.7 L552.0,105.7 L554.0,105.7 L556.0,105.7 L558.0,105.7 L560.0,105.7 L562.0,105.7 L564.0,105.7 L566.0,105.7 L568.0,105.7 L570.0,105.7 L572.0,105.7 L574.0,105.7 L576.0,105.7 L578.0,105.7 L580.0,105.7 L582.0,105.7 L584.0,105.7 L586.0,105.7 L588.0,105.7 L590.0,105.7 L592.0,105.7 L594.0,105.7 L596.0,105.7 L598.0,105.7 L600.0,105.7 L602.0,105.7 L604.0,105.7 L606.0,105.7 L608.0,105.7 L610.0,105.7 L612.0,105.7 L614.0,105.7 L616.0,105.7 L618.0,105.7 L620.0,105.7 L622.0,105.7 L624.0,105.7 L626.0,105.7 L628.0,105.7 L630.0,105.7 L632.0,105.7 L634.0,105.7 L636.0,105.7 L638.0,105.7 L640.0,105.7 L642.0,105.7 L644.0,105.7 L646.0,105.7 L648.0,105.7 L650.0,105.7 L652.0,105.7 L654.0,105.7 L656.0,105.7 L658.0,105.7 L660.0,105.7 L662.0,105.7 L664.0,105.7 L666.0,105.7 L668.0,105.7 L670.0,105.7 L672.0,105.7 L674.0,105.7 L676.0,105.7 L678.0,105.7 L680.0,105.7 L682.0,105.7 L684.0,105.7 L686.0,105.7 L688.0,105.7 L690.0,105.7 L692.0,105.7 L694.0,105.8 L696.0,105.8 L698.0,105.8 L700.0,105.8 L702.0,105.9 L704.0,105.9 L706.0,105.9 L708.0,105.9 L710.0,106.0 L712.0,106.0 L714.0,106.0 L716.0,106.0 L718.0,106.1 L720.0,106.1 L722.0,106.1 L724.0,106.1 L726.0,106.2 L728.0,106.2 L730.0,106.2 L732.0,106.2 L734.0,106.2 L736.0,106.2 L738.0,106.2 L740.0,106.2 L742.0,106.2 L744.0,106.2 L746.0,106.2 L748.0,106.2 L750.0,106.2 L752.0,106.2 L754.0,106.2 L756.0,106.2 L758.0,106.2 L760.0,106.2 L762.0,106.2 L764.0,106.2 L766.0,106.2 L768.0,106.2 L770.0,106.2 L772.0,106.2 L774.0,106.2 L776.0,106.2 L778.0,106.2 L780.0,106.2 L782.0,106.2 L784.0,106.2 L786.0,106.2 L788.0,106.2 L790.0,106.2 L792.0,106.2 L794.0,106.2 L796.0,106.2 L798.0,106.3 L800.0,106.3 L802.0,106.3 L804.0,106.3 L806.0,106.3 L808.0,106.3 L810.0,106.3 L812.0,106.4 L814.0,106.4 L816.0,106.4 L818.0,106.4 L820.0,106.5 L822.0,106.5 L824.0,106.5 L826.0,106.6 L828.0,106.6 L830.0,106.7 L832.0,106.7 L834.0,106.7 L836.0,106.8 L838.0,106.8 L840.0,106.8 L842.0,106.9 L844.0,106.9 L846.0,106.9 L848.0,106.9 L850.0,107.0 L852.0,107.0 L854.0,107.0 L856.0,107.0 L858.0,107.1 L860.0,107.1 L862.0,107.1 L864.0,107.1 L866.0,107.1 L868.0,107.1 L870.0,107.1 L872.0,107.2 L874.0,107.2 L876.0,107.2 L878.0,107.2 L880.0,107.2 L882.0,107.2 L884.0,107.2 L886.0,107.3 L888.0,107.3 L890.0,107.3 L892.0,107.3 L894.0,107.3 L896.0,107.3 L898.0,107.4 L900.0,107.4 L902.0,107.4 L904.0,107.4 L906.0,107.5 L908.0,107.5 L910.0,107.5 L912.0,107.6 L914.0,107.6 L916.0,107.7 L918.0,107.8 L920.0,107.9 L922.0,108.0 L924.0,108.1 L926.0,108.2 L928.0,108.3 L930.0,108.4 L932.0,108.5 L934.0,108.7 L936.0,108.8 L938.0,108.9 L940.0,109.1 L942.0,109.2 L944.0,109.3 L946.0,109.5 L948.0,109.6 L950.0,109.8 L952.0,109.9 L954.0,110.0 L956.0,110.2 L958.0,110.3 L960.0,110.5 L962.0,110.6 L964.0,110.7 L966.0,110.8 L968.0,110.9 L970.0,111.1 L972.0,111.2 L974.0,111.3 L976.0,111.4 L978.0,111.5 L980.0,111.6 L982.0,111.7 L984.0,111.8 L986.0,111.9 L988.0,112.0 L990.0,112.2 L992.0,112.3 L994.0,112.4 L996.0,112.5 L998.0,112.6 L1000.0,112.7 L1002.0,112.9 L1004.0,113.0 L1006.0,113.1 L1008.0,113.3 L1010.0,113.4 L1012.0,113.5 L1014.0,113.7 L1016.0,113.8 L1018.0,114.0 L1020.0,114.2 L1022.0,114.3 L1024.0,114.5 L1026.0,114.7 L1028.0,114.9 L1030.0,115.1 L1032.0,115.4 L1034.0,115.6 L1036.0,115.8 L1038.0,116.1 L1040.0,116.4 L1042.0,116.6 L1044.0,116.9 L1046.0,117.2 L1048.0,117.5 L1050.0,117.8 L1052.0,118.1 L1054.0,118.4 L1056.0,118.7 L1058.0,119.0 L1060.0,119.3 L1062.0,119.6 L1064.0,119.9 L1066.0,120.2 L1068.0,120.5 L1070.0,120.8 L1072.0,121.1 L1074.0,121.4 L1076.0,121.6 L1078.0,121.9 L1080.0,122.2 L1082.0,122.5 L1084.0,122.8 L1086.0,123.1 L1088.0,123.4 L1090.0,123.7 L1092.0,124.0 L1094.0,124.3 L1096.0,124.6 L1098.0,124.9 L1100.0,125.2 L1102.0,125.5 L1104.0,125.9 L1106.0,126.2 L1108.0,126.5 L1110.0,126.8 L1112.0,127.1 L1114.0,127.4 L1116.0,127.7 L1118.0,128.0 L1120.0,128.3 L1122.0,128.6 L1124.0,129.0 L1126.0,129.3 L1128.0,129.6 L1130.0,129.9 L1132.0,130.2 L1134.0,130.5 L1136.0,130.8 L1138.0,131.0 L1140.0,131.3 L1142.0,131.6 L1144.0,131.9 L1146.0,132.1 L1148.0,132.4 L1150.0,132.7 L1152.0,132.9 L1154.0,133.2 L1156.0,133.4 L1158.0,133.7 L1160.0,134.0 L1162.0,134.2 L1164.0,134.5 L1166.0,134.8 L1168.0,135.0 L1170.0,135.3 L1172.0,135.6 L1174.0,135.9 L1176.0,136.2 L1178.0,136.5 L1180.0,136.8 L1182.0,137.1 L1184.0,137.5 L1186.0,137.8 L1188.0,138.1 L1190.0,138.5 L1192.0,138.9 L1194.0,139.3 L1196.0,139.7 L1198.0,140.1 L1200.0,140.5 L1202.0,141.0 L1204.0,141.4 L1206.0,141.9 L1208.0,142.3 L1210.0,142.8 L1212.0,143.3 L1214.0,143.8 L1216.0,144.3 L1218.0,144.9 L1220.0,145.4 L1222.0,146.0 L1224.0,146.6 L1226.0,147.1 L1228.0,147.7 L1230.0,148.4 L1232.0,149.0 L1234.0,149.6 L1236.0,150.3 L1238.0,150.9 L1240.0,151.6 L1242.0,152.3 L1244.0,153.0 L1246.0,153.8 L1248.0,154.5 L1250.0,155.3 L1252.0,156.0 L1254.0,156.8 L1256.0,157.7 L1258.0,158.5 L1260.0,159.4 L1262.0,160.3 L1264.0,161.2 L1266.0,162.1 L1268.0,163.1 L1270.0,164.1 L1272.0,165.1 L1274.0,166.2 L1276.0,167.3 L1278.0,168.4 L1280.0,169.6 L1282.0,170.8 L1284.0,172.0 L1286.0,173.2 L1288.0,174.5 L1290.0,175.8 L1292.0,177.2 L1294.0,178.6 L1296.0,180.0 L1298.0,181.5 L1300.0,183.0 L1302.0,184.6 L1304.0,186.2 L1306.0,187.8 L1308.0,189.5 L1310.0,191.3 L1312.0,193.2 L1314.0,195.2 L1316.0,197.3 L1318.0,199.5 L1320.0,201.8 L1322.0,204.2 L1324.0,206.7 L1326.0,209.3 L1328.0,211.9 L1330.0,214.7 L1332.0,217.5 L1334.0,220.4 L1336.0,223.4 L1338.0,226.5 L1340.0,229.7 L1342.0,232.9 L1344.0,236.3 L1346.0,239.7 L1348.0,243.2 L1350.0,246.7 L1352.0,250.4 L1354.0,254.1 L1356.0,257.8 L1358.0,261.7 L1360.0,265.6 L1362.0,269.5 L1364.0,273.6 L1366.0,277.7 L1368.0,281.8 L1370.0,286.1 L1372.0,290.6 L1374.0,295.5 L1376.0,300.7 L1378.0,306.2 L1380.0,312.1 L1382.0,318.2 L1384.0,324.6 L1386.0,331.1 L1388.0,337.9 L1390.0,344.9 L1392.0,352.0 L1394.0,359.2 L1396.0,366.6 L1398.0,374.0 L1400.0,381.5 L1402.0,389.1 L1404.0,396.6 L1406.0,404.2 L1408.0,411.7 L1410.0,419.2 L1412.0,426.6 L1414.0,433.9 L1416.0,441.0 L1418.0,448.1 L1420.0,454.9 L1422.0,461.6 L1424.0,468.0 L1426.0,474.2 L1428.0,480.0 L1430.0,485.3 L1432.0,490.6 L1434.0,496.6 L1436.0,503.7 L1438.0,512.1 L1440.0,521.4 L1442.0,531.6 L1444.0,542.2 L1446.0,553.2 L1448.0,564.2 L1450.0,575.0 L1452.0,585.8 L1454.0,596.9 L1456.0,608.3 L1458.0,619.8 L1460.0,631.4 L1462.0,643.1 L1464.0,654.8 L1466.0,666.4 L1468.0,677.9 L1470.0,689.4 L1472.0,701.0 L1474.0,712.5 L1476.0,723.9 L1478.0,735.1 L1480.0,746.2 L1482.0,757.2 L1484.0,768.1 L1486.0,778.9 L1488.0,789.5 L1490.0,800.0 L1492.0,810.5 L1494.0,821.2 L1496.0,831.9 L1498.0,842.4 L1500.0,852.5 L1502.0,862.0 L1504.0,870.9 L1506.0,878.9 L1508.0,886.5 L1510.0,893.7 L1512.0,900.6 L1514.0,907.1 L1516.0,913.4 L1518.0,919.5 L1520.0,925.4 L1522.0,931.1 L1524.0,936.7 L1526.0,942.0 L1528.0,947.2 L1530.0,952.0 L1532.0,956.5 L1534.0,960.5 L1536.0,964.4 L1538.0,968.2 L1540.0,971.7 L1542.0,975.1 L1544.0,978.4 L1546.0,981.5 L1548.0,984.6 L1550.0,987.5 L1552.0,990.4 L1554.0,993.4 L1556.0,996.4 L1558.0,999.4 L1560.0,1002.2 L1562.0,1004.8 L1564.0,1007.2 L1566.0,1009.4 L1568.0,1011.1 L1570.0,1012.5 L1572.0,1013.6 L1574.0,1014.6 L1576.0,1015.4 L1578.0,1016.2 L1580.0,1016.9 L1582.0,1017.6 L1584.0,1018.2 L1586.0,1018.8 L1588.0,1019.4 L1590.0,1020.0 L1592.0,1020.6 L1594.0,1021.2 L1596.0,1021.8 L1598.0,1022.4 L1600.0,1023.0 L1602.0,1023.6 L1604.0,1024.1 L1606.0,1024.7 L1608.0,1025.2 L1610.0,1025.8 L1612.0,1026.3 L1614.0,1026.8 L1616.0,1027.4 L1618.0,1027.9 L1620.0,1028.4 L1622.0,1028.8 L1624.0,1029.3 L1626.0,1029.8 L1628.0,1030.2 L1630.0,1030.7 L1632.0,1031.1 L1634.0,1031.5 L1636.0,1031.9 L1638.0,1032.3 L1640.0,1032.6 L1642.0,1033.0 L1644.0,1033.3 L1646.0,1033.6 L1648.0,1033.9 L1650.0,1034.2 L1652.0,1034.5 L1654.0,1034.8 L1656.0,1035.1 L1658.0,1035.3 L1660.0,1035.6 L1662.0,1035.8 L1664.0,1036.1 L1666.0,1036.3 L1668.0,1036.5 L1670.0,1036.7 L1672.0,1037.0 L1674.0,1037.2 L1676.0,1037.4 L1678.0,1037.6 L1680.0,1037.8 L1682.0,1038.0 L1684.0,1038.2 L1686.0,1038.4 L1688.0,1038.6 L1690.0,1038.8 L1692.0,1038.9 L1694.0,1039.1 L1696.0,1039.3 L1698.0,1039.5 L1700.0,1039.7 L1702.0,1039.9 L1704.0,1040.1 L1706.0,1040.3 L1708.0,1040.5 L1710.0,1040.7 L1712.0,1040.9 L1714.0,1041.1 L1716.0,1041.2 L1718.0,1041.4 L1720.0,1041.6 L1722.0,1041.8 L1724.0,1042.0 L1726.0,1042.2 L1728.0,1042.4 L1730.0,1042.5 L1732.0,1042.7 L1734.0,1042.9 L1736.0,1043.1 L1738.0,1043.2 L1740.0,1043.4 L1742.0,1043.6 L1744.0,1043.7 L1746.0,1043.9 L1748.0,1044.1 L1750.0,1044.2 L1752.0,1044.4 L1754.0,1044.5 L1756.0,1044.7 L1758.0,1044.8 L1760.0,1045.0 L1762.0,1045.1 L1764.0,1045.3 L1766.0,1045.4 L1768.0,1045.6 L1770.0,1045.7 L1772.0,1045.8 L1774.0,1046.0 L1776.0,1046.1 L1778.0,1046.2 L1780.0,1046.3 L1782.0,1046.4 L1784.0,1046.6 L1786.0,1046.7 L1788.0,1046.8 L1790.0,1046.9 L1792.0,1047.0 L1794.0,1047.2 L1796.0,1047.3 L1798.0,1047.4 L1800.0,1047.5 L1802.0,1047.7 L1804.0,1047.8 L1806.0,1047.9 L1808.0,1048.1 L1810.0,1048.2 L1812.0,1048.4 L1814.0,1048.5 L1816.0,1048.7 L1818.0,1048.9 L1820.0,1049.0 L1822.0,1049.2 L1824.0,1049.4 L1826.0,1049.6 L1828.0,1049.8 L1830.0,1050.0 L1832.0,1050.2 L1834.0,1050.4 L1836.0,1050.6 L1838.0,1050.8 L1840.0,1051.0 L1842.0,1051.3 L1844.0,1051.5 L1846.0,1051.7 L1848.0,1052.0 L1850.0,1052.2 L1852.0,1052.4 L1854.0,1052.7 L1856.0,1052.9 L1858.0,1053.2 L1860.0,1053.4 L1862.0,1053.7 L1864.0,1053.9 L1866.0,1054.1 L1868.0,1054.4 L1870.0,1054.6 L1872.0,1054.9 L1874.0,1055.1 L1876.0,1055.4 L1878.0,1055.6 L1880.0,1055.8 L1882.0,1056.1 L1884.0,1056.3 L1886.0,1056.5 L1888.0,1056.8 L1890.0,1057.0 L1892.0,1057.3 L1894.0,1057.5 L1896.0,1057.7 L1898.0,1058.0 L1900.0,1058.2 L1902.0,1058.5 L1904.0,1058.7 L1906.0,1059.0 L1908.0,1059.3 L1910.0,1059.5 L1912.0,1059.8 L1914.0,1060.1 L1916.0,1060.4 L1918.0,1060.7 L1920.0,1061.0 L1922.0,1061.3 L1924.0,1061.7 L1926.0,1062.0 L1928.0,1062.4 L1930.0,1062.8" fill="none" stroke="#008000" stroke-width="4.5" stroke-linejoin="round"/>
<circle cx="262" cy="108.3" r="20.5" fill="url(#sph)"/>
<circle cx="293.5" cy="104" r="20.5" fill="url(#sph)"/>
<circle cx="351.25" cy="105.7" r="20.5" fill="url(#sph)"/>
<circle cx="408.75" cy="105.7" r="20.5" fill="url(#sph)"/>
<circle cx="461.75" cy="105.7" r="20.5" fill="url(#sph)"/>
<circle cx="515" cy="105.7" r="20.5" fill="url(#sph)"/>
<circle cx="568.75" cy="105.7" r="20.5" fill="url(#sph)"/>
<circle cx="625" cy="105.7" r="20.5" fill="url(#sph)"/>
<circle cx="681.25" cy="105.7" r="20.5" fill="url(#sph)"/>
<circle cx="740.5" cy="106.25" r="20.5" fill="url(#sph)"/>
<circle cx="796" cy="106.25" r="20.5" fill="url(#sph)"/>
<circle cx="852.25" cy="107" r="20.5" fill="url(#sph)"/>
<circle cx="908" cy="107.5" r="20.5" fill="url(#sph)"/>
<circle cx="964.75" cy="110.75" r="20.5" fill="url(#sph)"/>
<circle cx="1021" cy="114.25" r="20.5" fill="url(#sph)"/>
<circle cx="1076.75" cy="121.75" r="20.5" fill="url(#sph)"/>
<circle cx="1134.25" cy="130.5" r="20.5" fill="url(#sph)"/>
<circle cx="1191.25" cy="138.75" r="20.5" fill="url(#sph)"/>
<circle cx="1248" cy="154.5" r="20.5" fill="url(#sph)"/>
<circle cx="1306.25" cy="188" r="20.5" fill="url(#sph)"/>
<circle cx="1369.5" cy="285" r="20.5" fill="url(#sph)"/>
<circle cx="1426.25" cy="475" r="20.5" fill="url(#sph)"/>
<circle cx="1477" cy="729.5" r="20.5" fill="url(#sph)"/>
<circle cx="1532.5" cy="957.5" r="20.5" fill="url(#sph)"/>
<circle cx="1590" cy="1020" r="20.5" fill="url(#sph)"/>
<circle cx="1646.75" cy="1033.75" r="20.5" fill="url(#sph)"/>
<circle cx="1703" cy="1040" r="20.5" fill="url(#sph)"/>
<circle cx="1760" cy="1045" r="20.5" fill="url(#sph)"/>
<circle cx="1816.75" cy="1048.75" r="20.5" fill="url(#sph)"/>
<circle cx="1873" cy="1055" r="20.5" fill="url(#sph)"/>
<circle cx="1928.75" cy="1062.5" r="20.5" fill="url(#sph)"/>
</g>
<line x1="399.5" y1="834.9" x2="537.6" y2="834.9" stroke="#000" stroke-width="5.2"/>
<circle cx="468.5" cy="834.9" r="19.4" fill="#fff" stroke="#000" stroke-width="2.4"/>
<line x1="399.5" y1="909.4" x2="537.6" y2="909.4" stroke="#ff00ff" stroke-width="7.6"/>
<polygon points="468.5,881.6 493.2,924.5 443.8,924.5" fill="#ff00ff"/>
<line x1="399.5" y1="984.0" x2="537.6" y2="984.0" stroke="#0000ff" stroke-width="5.2"/>
<polygon points="468.5,960.5 473.8,976.7 490.8,976.7 477.0,986.8 482.3,1003.0 468.5,993.0 454.7,1003.0 460.0,986.8 446.2,976.7 463.2,976.7" fill="#0000ff"/>
<line x1="399.5" y1="1058.5" x2="537.6" y2="1058.5" stroke="#008000" stroke-width="5"/>
<circle cx="468.5" cy="1059.0" r="20.5" fill="url(#sph)"/>
<g font-size="60px">
<text x="553" y="854.2">PU/T</text>
<text x="553" y="929.5">7.1% CPA-Al/PU/T</text>
<text x="553" y="1004.2">10.3% CPA-Al/PU/T</text>
<text x="553" y="1079.0">14.7% CPA-Al/PU/T</text>
</g>
</svg>
</body></html>
